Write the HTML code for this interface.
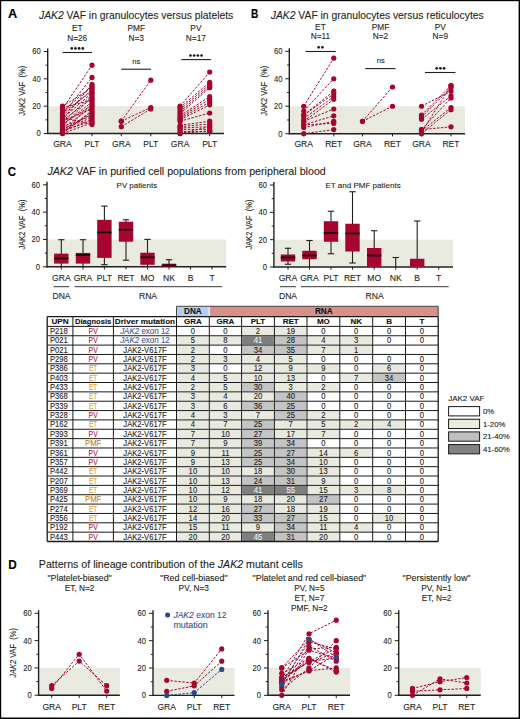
<!DOCTYPE html>
<html><head><meta charset="utf-8"><style>
html,body{margin:0;padding:0;background:#fff;}
svg{display:block;}
text{font-family:"Liberation Sans",sans-serif;stroke-width:0.1px;}
text:not([fill]){stroke:#231f20;}
</style></head><body>
<svg width="520" height="719" viewBox="0 0 520 719">
<rect width="520" height="719" fill="#fff"/>
<g fill="#231f20">
<text x="7.90" y="17.90" font-size="12.8" text-anchor="start" font-weight="bold" fill="#000" stroke="#000">A</text>
<text x="39" y="18.5" font-size="10.6" textLength="194.3" lengthAdjust="spacingAndGlyphs"><tspan font-style="italic">JAK2</tspan> VAF in granulocytes versus platelets</text>
<rect x="48.20" y="106.17" width="175.80" height="27.33" fill="#e9ebe0"/>
<line x1="47.70" y1="48.50" x2="47.70" y2="134.10" stroke="#231f20" stroke-width="1.4"/>
<line x1="47.10" y1="133.50" x2="224.00" y2="133.50" stroke="#231f20" stroke-width="1.4"/>
<line x1="43.70" y1="133.50" x2="47.70" y2="133.50" stroke="#231f20" stroke-width="1.0"/>
<text x="40.80" y="136.40" font-size="8.9" text-anchor="end" textLength="4.25" lengthAdjust="spacingAndGlyphs">0</text>
<line x1="43.70" y1="106.17" x2="47.70" y2="106.17" stroke="#231f20" stroke-width="1.0"/>
<text x="40.80" y="109.07" font-size="8.9" text-anchor="end" textLength="8.5" lengthAdjust="spacingAndGlyphs">20</text>
<line x1="43.70" y1="78.83" x2="47.70" y2="78.83" stroke="#231f20" stroke-width="1.0"/>
<text x="40.80" y="81.73" font-size="8.9" text-anchor="end" textLength="8.5" lengthAdjust="spacingAndGlyphs">40</text>
<line x1="43.70" y1="51.50" x2="47.70" y2="51.50" stroke="#231f20" stroke-width="1.0"/>
<text x="40.80" y="54.40" font-size="8.9" text-anchor="end" textLength="8.5" lengthAdjust="spacingAndGlyphs">60</text>
<line x1="45.50" y1="119.83" x2="47.70" y2="119.83" stroke="#231f20" stroke-width="1.0"/>
<line x1="45.50" y1="92.50" x2="47.70" y2="92.50" stroke="#231f20" stroke-width="1.0"/>
<line x1="45.50" y1="65.17" x2="47.70" y2="65.17" stroke="#231f20" stroke-width="1.0"/>
<text transform="translate(25.30,90.70) rotate(-90)" x="0" y="0" font-size="9.2" text-anchor="middle" textLength="50" lengthAdjust="spacingAndGlyphs">JAK2 VAF&#160; (%)</text>
<line x1="62.50" y1="133.50" x2="62.50" y2="136.20" stroke="#231f20" stroke-width="1.0"/>
<text x="62.50" y="147.20" font-size="8.6" text-anchor="middle">GRA</text>
<line x1="92.00" y1="133.50" x2="92.00" y2="136.20" stroke="#231f20" stroke-width="1.0"/>
<text x="92.00" y="147.20" font-size="8.6" text-anchor="middle">PLT</text>
<line x1="121.30" y1="133.50" x2="121.30" y2="136.20" stroke="#231f20" stroke-width="1.0"/>
<text x="121.30" y="147.20" font-size="8.6" text-anchor="middle">GRA</text>
<line x1="150.80" y1="133.50" x2="150.80" y2="136.20" stroke="#231f20" stroke-width="1.0"/>
<text x="150.80" y="147.20" font-size="8.6" text-anchor="middle">PLT</text>
<line x1="180.10" y1="133.50" x2="180.10" y2="136.20" stroke="#231f20" stroke-width="1.0"/>
<text x="180.10" y="147.20" font-size="8.6" text-anchor="middle">GRA</text>
<line x1="209.70" y1="133.50" x2="209.70" y2="136.20" stroke="#231f20" stroke-width="1.0"/>
<text x="209.70" y="147.20" font-size="8.6" text-anchor="middle">PLT</text>
<text x="77.20" y="30.60" font-size="8.3" text-anchor="middle">ET</text>
<text x="77.20" y="40.60" font-size="8.3" text-anchor="middle">N=26</text>
<text x="136.20" y="30.60" font-size="8.3" text-anchor="middle">PMF</text>
<text x="136.20" y="40.60" font-size="8.3" text-anchor="middle">N=3</text>
<text x="195.90" y="30.60" font-size="8.3" text-anchor="middle">PV</text>
<text x="195.90" y="40.60" font-size="8.3" text-anchor="middle">N=17</text>
<line x1="62.70" y1="52.50" x2="91.90" y2="52.50" stroke="#231f20" stroke-width="1.1"/>
<circle cx="71.75" cy="48.40" r="1.35" fill="#1a1a1a"/>
<circle cx="75.45" cy="48.40" r="1.35" fill="#1a1a1a"/>
<circle cx="79.15" cy="48.40" r="1.35" fill="#1a1a1a"/>
<circle cx="82.85" cy="48.40" r="1.35" fill="#1a1a1a"/>
<line x1="121.20" y1="69.20" x2="151.00" y2="69.20" stroke="#231f20" stroke-width="1.1"/>
<text x="136.20" y="64.20" font-size="7.6" text-anchor="middle">ns</text>
<line x1="181.20" y1="59.60" x2="210.90" y2="59.60" stroke="#231f20" stroke-width="1.1"/>
<circle cx="190.45" cy="55.50" r="1.35" fill="#1a1a1a"/>
<circle cx="194.15" cy="55.50" r="1.35" fill="#1a1a1a"/>
<circle cx="197.85" cy="55.50" r="1.35" fill="#1a1a1a"/>
<circle cx="201.55" cy="55.50" r="1.35" fill="#1a1a1a"/>
<line x1="62.50" y1="108.90" x2="92.00" y2="65.17" stroke="#a5052f" stroke-width="1.0" stroke-dasharray="2.4 1.5"/>
<line x1="62.50" y1="114.37" x2="92.00" y2="77.47" stroke="#a5052f" stroke-width="1.0" stroke-dasharray="2.4 1.5"/>
<line x1="62.50" y1="106.17" x2="92.00" y2="87.81" stroke="#a5052f" stroke-width="1.0" stroke-dasharray="2.4 1.5"/>
<line x1="62.50" y1="107.53" x2="92.00" y2="100.08" stroke="#a5052f" stroke-width="1.0" stroke-dasharray="2.4 1.5"/>
<line x1="62.50" y1="111.63" x2="92.00" y2="86.05" stroke="#a5052f" stroke-width="1.0" stroke-dasharray="2.4 1.5"/>
<line x1="62.50" y1="113.00" x2="92.00" y2="91.31" stroke="#a5052f" stroke-width="1.0" stroke-dasharray="2.4 1.5"/>
<line x1="62.50" y1="115.73" x2="92.00" y2="89.56" stroke="#a5052f" stroke-width="1.0" stroke-dasharray="2.4 1.5"/>
<line x1="62.50" y1="117.10" x2="92.00" y2="124.62" stroke="#a5052f" stroke-width="1.0" stroke-dasharray="2.4 1.5"/>
<line x1="62.50" y1="118.47" x2="92.00" y2="93.06" stroke="#a5052f" stroke-width="1.0" stroke-dasharray="2.4 1.5"/>
<line x1="62.50" y1="119.83" x2="92.00" y2="84.30" stroke="#a5052f" stroke-width="1.0" stroke-dasharray="2.4 1.5"/>
<line x1="62.50" y1="120.52" x2="92.00" y2="98.32" stroke="#a5052f" stroke-width="1.0" stroke-dasharray="2.4 1.5"/>
<line x1="62.50" y1="121.20" x2="92.00" y2="108.84" stroke="#a5052f" stroke-width="1.0" stroke-dasharray="2.4 1.5"/>
<line x1="62.50" y1="122.57" x2="92.00" y2="94.82" stroke="#a5052f" stroke-width="1.0" stroke-dasharray="2.4 1.5"/>
<line x1="62.50" y1="123.93" x2="92.00" y2="105.33" stroke="#a5052f" stroke-width="1.0" stroke-dasharray="2.4 1.5"/>
<line x1="62.50" y1="125.30" x2="92.00" y2="101.83" stroke="#a5052f" stroke-width="1.0" stroke-dasharray="2.4 1.5"/>
<line x1="62.50" y1="125.98" x2="92.00" y2="96.57" stroke="#a5052f" stroke-width="1.0" stroke-dasharray="2.4 1.5"/>
<line x1="62.50" y1="126.67" x2="92.00" y2="115.85" stroke="#a5052f" stroke-width="1.0" stroke-dasharray="2.4 1.5"/>
<line x1="62.50" y1="128.03" x2="92.00" y2="107.09" stroke="#a5052f" stroke-width="1.0" stroke-dasharray="2.4 1.5"/>
<line x1="62.50" y1="128.72" x2="92.00" y2="117.61" stroke="#a5052f" stroke-width="1.0" stroke-dasharray="2.4 1.5"/>
<line x1="62.50" y1="129.40" x2="92.00" y2="114.10" stroke="#a5052f" stroke-width="1.0" stroke-dasharray="2.4 1.5"/>
<line x1="62.50" y1="130.77" x2="92.00" y2="121.11" stroke="#a5052f" stroke-width="1.0" stroke-dasharray="2.4 1.5"/>
<line x1="62.50" y1="131.45" x2="92.00" y2="119.36" stroke="#a5052f" stroke-width="1.0" stroke-dasharray="2.4 1.5"/>
<line x1="62.50" y1="132.13" x2="92.00" y2="112.35" stroke="#a5052f" stroke-width="1.0" stroke-dasharray="2.4 1.5"/>
<line x1="62.50" y1="132.82" x2="92.00" y2="103.58" stroke="#a5052f" stroke-width="1.0" stroke-dasharray="2.4 1.5"/>
<line x1="62.50" y1="133.50" x2="92.00" y2="122.86" stroke="#a5052f" stroke-width="1.0" stroke-dasharray="2.4 1.5"/>
<line x1="62.50" y1="133.50" x2="92.00" y2="110.59" stroke="#a5052f" stroke-width="1.0" stroke-dasharray="2.4 1.5"/>
<circle cx="62.50" cy="108.90" r="2.6" fill="#a5052f"/>
<circle cx="92.00" cy="65.17" r="2.6" fill="#a5052f"/>
<circle cx="62.50" cy="114.37" r="2.6" fill="#a5052f"/>
<circle cx="92.00" cy="77.47" r="2.6" fill="#a5052f"/>
<circle cx="62.50" cy="106.17" r="2.6" fill="#a5052f"/>
<circle cx="92.00" cy="87.81" r="2.6" fill="#a5052f"/>
<circle cx="62.50" cy="107.53" r="2.6" fill="#a5052f"/>
<circle cx="92.00" cy="100.08" r="2.6" fill="#a5052f"/>
<circle cx="62.50" cy="111.63" r="2.6" fill="#a5052f"/>
<circle cx="92.00" cy="86.05" r="2.6" fill="#a5052f"/>
<circle cx="62.50" cy="113.00" r="2.6" fill="#a5052f"/>
<circle cx="92.00" cy="91.31" r="2.6" fill="#a5052f"/>
<circle cx="62.50" cy="115.73" r="2.6" fill="#a5052f"/>
<circle cx="92.00" cy="89.56" r="2.6" fill="#a5052f"/>
<circle cx="62.50" cy="117.10" r="2.6" fill="#a5052f"/>
<circle cx="92.00" cy="124.62" r="2.6" fill="#a5052f"/>
<circle cx="62.50" cy="118.47" r="2.6" fill="#a5052f"/>
<circle cx="92.00" cy="93.06" r="2.6" fill="#a5052f"/>
<circle cx="62.50" cy="119.83" r="2.6" fill="#a5052f"/>
<circle cx="92.00" cy="84.30" r="2.6" fill="#a5052f"/>
<circle cx="62.50" cy="120.52" r="2.6" fill="#a5052f"/>
<circle cx="92.00" cy="98.32" r="2.6" fill="#a5052f"/>
<circle cx="62.50" cy="121.20" r="2.6" fill="#a5052f"/>
<circle cx="92.00" cy="108.84" r="2.6" fill="#a5052f"/>
<circle cx="62.50" cy="122.57" r="2.6" fill="#a5052f"/>
<circle cx="92.00" cy="94.82" r="2.6" fill="#a5052f"/>
<circle cx="62.50" cy="123.93" r="2.6" fill="#a5052f"/>
<circle cx="92.00" cy="105.33" r="2.6" fill="#a5052f"/>
<circle cx="62.50" cy="125.30" r="2.6" fill="#a5052f"/>
<circle cx="92.00" cy="101.83" r="2.6" fill="#a5052f"/>
<circle cx="62.50" cy="125.98" r="2.6" fill="#a5052f"/>
<circle cx="92.00" cy="96.57" r="2.6" fill="#a5052f"/>
<circle cx="62.50" cy="126.67" r="2.6" fill="#a5052f"/>
<circle cx="92.00" cy="115.85" r="2.6" fill="#a5052f"/>
<circle cx="62.50" cy="128.03" r="2.6" fill="#a5052f"/>
<circle cx="92.00" cy="107.09" r="2.6" fill="#a5052f"/>
<circle cx="62.50" cy="128.72" r="2.6" fill="#a5052f"/>
<circle cx="92.00" cy="117.61" r="2.6" fill="#a5052f"/>
<circle cx="62.50" cy="129.40" r="2.6" fill="#a5052f"/>
<circle cx="92.00" cy="114.10" r="2.6" fill="#a5052f"/>
<circle cx="62.50" cy="130.77" r="2.6" fill="#a5052f"/>
<circle cx="92.00" cy="121.11" r="2.6" fill="#a5052f"/>
<circle cx="62.50" cy="131.45" r="2.6" fill="#a5052f"/>
<circle cx="92.00" cy="119.36" r="2.6" fill="#a5052f"/>
<circle cx="62.50" cy="132.13" r="2.6" fill="#a5052f"/>
<circle cx="92.00" cy="112.35" r="2.6" fill="#a5052f"/>
<circle cx="62.50" cy="132.82" r="2.6" fill="#a5052f"/>
<circle cx="92.00" cy="103.58" r="2.6" fill="#a5052f"/>
<circle cx="62.50" cy="133.50" r="2.6" fill="#a5052f"/>
<circle cx="92.00" cy="122.86" r="2.6" fill="#a5052f"/>
<circle cx="62.50" cy="133.50" r="2.6" fill="#a5052f"/>
<circle cx="92.00" cy="110.59" r="2.6" fill="#a5052f"/>
<line x1="121.30" y1="121.20" x2="150.80" y2="80.20" stroke="#a5052f" stroke-width="1.0" stroke-dasharray="2.4 1.5"/>
<line x1="121.30" y1="121.20" x2="150.80" y2="107.53" stroke="#a5052f" stroke-width="1.0" stroke-dasharray="2.4 1.5"/>
<line x1="121.30" y1="126.67" x2="150.80" y2="108.90" stroke="#a5052f" stroke-width="1.0" stroke-dasharray="2.4 1.5"/>
<circle cx="121.30" cy="121.20" r="2.6" fill="#a5052f"/>
<circle cx="150.80" cy="80.20" r="2.6" fill="#a5052f"/>
<circle cx="121.30" cy="121.20" r="2.6" fill="#a5052f"/>
<circle cx="150.80" cy="107.53" r="2.6" fill="#a5052f"/>
<circle cx="121.30" cy="126.67" r="2.6" fill="#a5052f"/>
<circle cx="150.80" cy="108.90" r="2.6" fill="#a5052f"/>
<line x1="180.10" y1="106.17" x2="209.70" y2="72.00" stroke="#a5052f" stroke-width="1.0" stroke-dasharray="2.4 1.5"/>
<line x1="180.10" y1="107.53" x2="209.70" y2="82.25" stroke="#a5052f" stroke-width="1.0" stroke-dasharray="2.4 1.5"/>
<line x1="180.10" y1="109.58" x2="209.70" y2="84.30" stroke="#a5052f" stroke-width="1.0" stroke-dasharray="2.4 1.5"/>
<line x1="180.10" y1="111.63" x2="209.70" y2="86.35" stroke="#a5052f" stroke-width="1.0" stroke-dasharray="2.4 1.5"/>
<line x1="180.10" y1="113.68" x2="209.70" y2="87.72" stroke="#a5052f" stroke-width="1.0" stroke-dasharray="2.4 1.5"/>
<line x1="180.10" y1="115.73" x2="209.70" y2="96.60" stroke="#a5052f" stroke-width="1.0" stroke-dasharray="2.4 1.5"/>
<line x1="180.10" y1="117.10" x2="209.70" y2="99.33" stroke="#a5052f" stroke-width="1.0" stroke-dasharray="2.4 1.5"/>
<line x1="180.10" y1="118.47" x2="209.70" y2="102.07" stroke="#a5052f" stroke-width="1.0" stroke-dasharray="2.4 1.5"/>
<line x1="180.10" y1="119.83" x2="209.70" y2="104.80" stroke="#a5052f" stroke-width="1.0" stroke-dasharray="2.4 1.5"/>
<line x1="180.10" y1="121.20" x2="209.70" y2="113.00" stroke="#a5052f" stroke-width="1.0" stroke-dasharray="2.4 1.5"/>
<line x1="180.10" y1="125.30" x2="209.70" y2="121.20" stroke="#a5052f" stroke-width="1.0" stroke-dasharray="2.4 1.5"/>
<line x1="180.10" y1="126.67" x2="209.70" y2="123.93" stroke="#a5052f" stroke-width="1.0" stroke-dasharray="2.4 1.5"/>
<line x1="180.10" y1="128.03" x2="209.70" y2="126.67" stroke="#a5052f" stroke-width="1.0" stroke-dasharray="2.4 1.5"/>
<line x1="180.10" y1="129.40" x2="209.70" y2="129.40" stroke="#a5052f" stroke-width="1.0" stroke-dasharray="2.4 1.5"/>
<line x1="180.10" y1="131.45" x2="209.70" y2="131.45" stroke="#a5052f" stroke-width="1.0" stroke-dasharray="2.4 1.5"/>
<line x1="180.10" y1="133.50" x2="209.70" y2="126.67" stroke="#a5052f" stroke-width="1.0" stroke-dasharray="2.4 1.5"/>
<line x1="180.10" y1="133.50" x2="209.70" y2="130.77" stroke="#a5052f" stroke-width="1.0" stroke-dasharray="2.4 1.5"/>
<circle cx="180.10" cy="106.17" r="2.6" fill="#a5052f"/>
<circle cx="209.70" cy="72.00" r="2.6" fill="#a5052f"/>
<circle cx="180.10" cy="107.53" r="2.6" fill="#a5052f"/>
<circle cx="209.70" cy="82.25" r="2.6" fill="#a5052f"/>
<circle cx="180.10" cy="109.58" r="2.6" fill="#a5052f"/>
<circle cx="209.70" cy="84.30" r="2.6" fill="#a5052f"/>
<circle cx="180.10" cy="111.63" r="2.6" fill="#a5052f"/>
<circle cx="209.70" cy="86.35" r="2.6" fill="#a5052f"/>
<circle cx="180.10" cy="113.68" r="2.6" fill="#a5052f"/>
<circle cx="209.70" cy="87.72" r="2.6" fill="#a5052f"/>
<circle cx="180.10" cy="115.73" r="2.6" fill="#a5052f"/>
<circle cx="209.70" cy="96.60" r="2.6" fill="#a5052f"/>
<circle cx="180.10" cy="117.10" r="2.6" fill="#a5052f"/>
<circle cx="209.70" cy="99.33" r="2.6" fill="#a5052f"/>
<circle cx="180.10" cy="118.47" r="2.6" fill="#a5052f"/>
<circle cx="209.70" cy="102.07" r="2.6" fill="#a5052f"/>
<circle cx="180.10" cy="119.83" r="2.6" fill="#a5052f"/>
<circle cx="209.70" cy="104.80" r="2.6" fill="#a5052f"/>
<circle cx="180.10" cy="121.20" r="2.6" fill="#a5052f"/>
<circle cx="209.70" cy="113.00" r="2.6" fill="#a5052f"/>
<circle cx="180.10" cy="125.30" r="2.6" fill="#a5052f"/>
<circle cx="209.70" cy="121.20" r="2.6" fill="#a5052f"/>
<circle cx="180.10" cy="126.67" r="2.6" fill="#a5052f"/>
<circle cx="209.70" cy="123.93" r="2.6" fill="#a5052f"/>
<circle cx="180.10" cy="128.03" r="2.6" fill="#a5052f"/>
<circle cx="209.70" cy="126.67" r="2.6" fill="#a5052f"/>
<circle cx="180.10" cy="129.40" r="2.6" fill="#a5052f"/>
<circle cx="209.70" cy="129.40" r="2.6" fill="#a5052f"/>
<circle cx="180.10" cy="131.45" r="2.6" fill="#a5052f"/>
<circle cx="209.70" cy="131.45" r="2.6" fill="#a5052f"/>
<circle cx="180.10" cy="133.50" r="2.6" fill="#a5052f"/>
<circle cx="209.70" cy="126.67" r="2.6" fill="#a5052f"/>
<circle cx="180.10" cy="133.50" r="2.6" fill="#a5052f"/>
<circle cx="209.70" cy="130.77" r="2.6" fill="#a5052f"/>
<text x="251.00" y="17.70" font-size="12.6" text-anchor="start" font-weight="bold" fill="#000" stroke="#000" textLength="7.3" lengthAdjust="spacingAndGlyphs">B</text>
<text x="270.8" y="18.5" font-size="10.6" textLength="212.9" lengthAdjust="spacingAndGlyphs"><tspan font-style="italic">JAK2</tspan> VAF in granulocytes versus reticulocytes</text>
<rect x="289.80" y="106.23" width="175.20" height="27.47" fill="#e9ebe0"/>
<line x1="289.30" y1="48.30" x2="289.30" y2="134.30" stroke="#231f20" stroke-width="1.4"/>
<line x1="288.70" y1="133.70" x2="465.00" y2="133.70" stroke="#231f20" stroke-width="1.4"/>
<line x1="285.30" y1="133.70" x2="289.30" y2="133.70" stroke="#231f20" stroke-width="1.0"/>
<text x="282.40" y="136.60" font-size="8.9" text-anchor="end" textLength="4.25" lengthAdjust="spacingAndGlyphs">0</text>
<line x1="285.30" y1="106.23" x2="289.30" y2="106.23" stroke="#231f20" stroke-width="1.0"/>
<text x="282.40" y="109.13" font-size="8.9" text-anchor="end" textLength="8.5" lengthAdjust="spacingAndGlyphs">20</text>
<line x1="285.30" y1="78.77" x2="289.30" y2="78.77" stroke="#231f20" stroke-width="1.0"/>
<text x="282.40" y="81.67" font-size="8.9" text-anchor="end" textLength="8.5" lengthAdjust="spacingAndGlyphs">40</text>
<line x1="285.30" y1="51.30" x2="289.30" y2="51.30" stroke="#231f20" stroke-width="1.0"/>
<text x="282.40" y="54.20" font-size="8.9" text-anchor="end" textLength="8.5" lengthAdjust="spacingAndGlyphs">60</text>
<line x1="287.10" y1="119.97" x2="289.30" y2="119.97" stroke="#231f20" stroke-width="1.0"/>
<line x1="287.10" y1="92.50" x2="289.30" y2="92.50" stroke="#231f20" stroke-width="1.0"/>
<line x1="287.10" y1="65.03" x2="289.30" y2="65.03" stroke="#231f20" stroke-width="1.0"/>
<text transform="translate(266.85,90.70) rotate(-90)" x="0" y="0" font-size="9.2" text-anchor="middle" textLength="50" lengthAdjust="spacingAndGlyphs">JAK2 VAF&#160; (%)</text>
<line x1="303.75" y1="133.70" x2="303.75" y2="136.40" stroke="#231f20" stroke-width="1.0"/>
<text x="303.75" y="147.20" font-size="8.6" text-anchor="middle">GRA</text>
<line x1="333.75" y1="133.70" x2="333.75" y2="136.40" stroke="#231f20" stroke-width="1.0"/>
<text x="333.75" y="147.20" font-size="8.6" text-anchor="middle">RET</text>
<line x1="362.50" y1="133.70" x2="362.50" y2="136.40" stroke="#231f20" stroke-width="1.0"/>
<text x="362.50" y="147.20" font-size="8.6" text-anchor="middle">GRA</text>
<line x1="392.50" y1="133.70" x2="392.50" y2="136.40" stroke="#231f20" stroke-width="1.0"/>
<text x="392.50" y="147.20" font-size="8.6" text-anchor="middle">RET</text>
<line x1="421.50" y1="133.70" x2="421.50" y2="136.40" stroke="#231f20" stroke-width="1.0"/>
<text x="421.50" y="147.20" font-size="8.6" text-anchor="middle">GRA</text>
<line x1="451.00" y1="133.70" x2="451.00" y2="136.40" stroke="#231f20" stroke-width="1.0"/>
<text x="451.00" y="147.20" font-size="8.6" text-anchor="middle">RET</text>
<text x="320.40" y="29.70" font-size="8.3" text-anchor="middle">ET</text>
<text x="320.40" y="39.20" font-size="8.3" text-anchor="middle">N=11</text>
<text x="380.50" y="29.70" font-size="8.3" text-anchor="middle">PMF</text>
<text x="380.50" y="39.20" font-size="8.3" text-anchor="middle">N=2</text>
<text x="440.30" y="29.70" font-size="8.3" text-anchor="middle">PV</text>
<text x="440.30" y="39.20" font-size="8.3" text-anchor="middle">N=9</text>
<line x1="305.50" y1="51.50" x2="335.80" y2="51.50" stroke="#231f20" stroke-width="1.1"/>
<circle cx="318.65" cy="47.30" r="1.35" fill="#1a1a1a"/>
<circle cx="322.35" cy="47.30" r="1.35" fill="#1a1a1a"/>
<line x1="365.20" y1="68.60" x2="395.40" y2="68.60" stroke="#231f20" stroke-width="1.1"/>
<text x="380.70" y="63.30" font-size="7.6" text-anchor="middle">ns</text>
<line x1="425.00" y1="72.50" x2="455.40" y2="72.50" stroke="#231f20" stroke-width="1.1"/>
<circle cx="436.70" cy="68.30" r="1.35" fill="#1a1a1a"/>
<circle cx="440.40" cy="68.30" r="1.35" fill="#1a1a1a"/>
<circle cx="444.10" cy="68.30" r="1.35" fill="#1a1a1a"/>
<line x1="303.75" y1="106.23" x2="333.75" y2="58.17" stroke="#a5052f" stroke-width="1.0" stroke-dasharray="2.4 1.5"/>
<line x1="303.75" y1="111.04" x2="333.75" y2="78.77" stroke="#a5052f" stroke-width="1.0" stroke-dasharray="2.4 1.5"/>
<line x1="303.75" y1="115.16" x2="333.75" y2="91.13" stroke="#a5052f" stroke-width="1.0" stroke-dasharray="2.4 1.5"/>
<line x1="303.75" y1="115.16" x2="333.75" y2="93.87" stroke="#a5052f" stroke-width="1.0" stroke-dasharray="2.4 1.5"/>
<line x1="303.75" y1="118.59" x2="333.75" y2="96.62" stroke="#a5052f" stroke-width="1.0" stroke-dasharray="2.4 1.5"/>
<line x1="303.75" y1="121.34" x2="333.75" y2="99.37" stroke="#a5052f" stroke-width="1.0" stroke-dasharray="2.4 1.5"/>
<line x1="303.75" y1="121.34" x2="333.75" y2="108.98" stroke="#a5052f" stroke-width="1.0" stroke-dasharray="2.4 1.5"/>
<line x1="303.75" y1="124.77" x2="333.75" y2="115.85" stroke="#a5052f" stroke-width="1.0" stroke-dasharray="2.4 1.5"/>
<line x1="303.75" y1="127.52" x2="333.75" y2="121.34" stroke="#a5052f" stroke-width="1.0" stroke-dasharray="2.4 1.5"/>
<line x1="303.75" y1="124.77" x2="333.75" y2="123.40" stroke="#a5052f" stroke-width="1.0" stroke-dasharray="2.4 1.5"/>
<line x1="303.75" y1="133.70" x2="333.75" y2="129.58" stroke="#a5052f" stroke-width="1.0" stroke-dasharray="2.4 1.5"/>
<circle cx="303.75" cy="106.23" r="2.6" fill="#a5052f"/>
<circle cx="333.75" cy="58.17" r="2.6" fill="#a5052f"/>
<circle cx="303.75" cy="111.04" r="2.6" fill="#a5052f"/>
<circle cx="333.75" cy="78.77" r="2.6" fill="#a5052f"/>
<circle cx="303.75" cy="115.16" r="2.6" fill="#a5052f"/>
<circle cx="333.75" cy="91.13" r="2.6" fill="#a5052f"/>
<circle cx="303.75" cy="115.16" r="2.6" fill="#a5052f"/>
<circle cx="333.75" cy="93.87" r="2.6" fill="#a5052f"/>
<circle cx="303.75" cy="118.59" r="2.6" fill="#a5052f"/>
<circle cx="333.75" cy="96.62" r="2.6" fill="#a5052f"/>
<circle cx="303.75" cy="121.34" r="2.6" fill="#a5052f"/>
<circle cx="333.75" cy="99.37" r="2.6" fill="#a5052f"/>
<circle cx="303.75" cy="121.34" r="2.6" fill="#a5052f"/>
<circle cx="333.75" cy="108.98" r="2.6" fill="#a5052f"/>
<circle cx="303.75" cy="124.77" r="2.6" fill="#a5052f"/>
<circle cx="333.75" cy="115.85" r="2.6" fill="#a5052f"/>
<circle cx="303.75" cy="127.52" r="2.6" fill="#a5052f"/>
<circle cx="333.75" cy="121.34" r="2.6" fill="#a5052f"/>
<circle cx="303.75" cy="124.77" r="2.6" fill="#a5052f"/>
<circle cx="333.75" cy="123.40" r="2.6" fill="#a5052f"/>
<circle cx="303.75" cy="133.70" r="2.6" fill="#a5052f"/>
<circle cx="333.75" cy="129.58" r="2.6" fill="#a5052f"/>
<line x1="362.50" y1="121.34" x2="392.50" y2="87.01" stroke="#a5052f" stroke-width="1.0" stroke-dasharray="2.4 1.5"/>
<line x1="362.50" y1="121.34" x2="392.50" y2="106.23" stroke="#a5052f" stroke-width="1.0" stroke-dasharray="2.4 1.5"/>
<circle cx="362.50" cy="121.34" r="2.6" fill="#a5052f"/>
<circle cx="392.50" cy="87.01" r="2.6" fill="#a5052f"/>
<circle cx="362.50" cy="121.34" r="2.6" fill="#a5052f"/>
<circle cx="392.50" cy="106.23" r="2.6" fill="#a5052f"/>
<line x1="421.50" y1="106.23" x2="451.00" y2="91.13" stroke="#a5052f" stroke-width="1.0" stroke-dasharray="2.4 1.5"/>
<line x1="421.50" y1="115.16" x2="451.00" y2="85.63" stroke="#a5052f" stroke-width="1.0" stroke-dasharray="2.4 1.5"/>
<line x1="421.50" y1="117.22" x2="451.00" y2="87.69" stroke="#a5052f" stroke-width="1.0" stroke-dasharray="2.4 1.5"/>
<line x1="421.50" y1="119.28" x2="451.00" y2="95.93" stroke="#a5052f" stroke-width="1.0" stroke-dasharray="2.4 1.5"/>
<line x1="421.50" y1="129.58" x2="451.00" y2="97.99" stroke="#a5052f" stroke-width="1.0" stroke-dasharray="2.4 1.5"/>
<line x1="421.50" y1="130.95" x2="451.00" y2="107.61" stroke="#a5052f" stroke-width="1.0" stroke-dasharray="2.4 1.5"/>
<line x1="421.50" y1="133.70" x2="451.00" y2="109.67" stroke="#a5052f" stroke-width="1.0" stroke-dasharray="2.4 1.5"/>
<line x1="421.50" y1="132.33" x2="451.00" y2="85.63" stroke="#a5052f" stroke-width="1.0" stroke-dasharray="2.4 1.5"/>
<line x1="421.50" y1="129.58" x2="451.00" y2="126.83" stroke="#a5052f" stroke-width="1.0" stroke-dasharray="2.4 1.5"/>
<circle cx="421.50" cy="106.23" r="2.6" fill="#a5052f"/>
<circle cx="451.00" cy="91.13" r="2.6" fill="#a5052f"/>
<circle cx="421.50" cy="115.16" r="2.6" fill="#a5052f"/>
<circle cx="451.00" cy="85.63" r="2.6" fill="#a5052f"/>
<circle cx="421.50" cy="117.22" r="2.6" fill="#a5052f"/>
<circle cx="451.00" cy="87.69" r="2.6" fill="#a5052f"/>
<circle cx="421.50" cy="119.28" r="2.6" fill="#a5052f"/>
<circle cx="451.00" cy="95.93" r="2.6" fill="#a5052f"/>
<circle cx="421.50" cy="129.58" r="2.6" fill="#a5052f"/>
<circle cx="451.00" cy="97.99" r="2.6" fill="#a5052f"/>
<circle cx="421.50" cy="130.95" r="2.6" fill="#a5052f"/>
<circle cx="451.00" cy="107.61" r="2.6" fill="#a5052f"/>
<circle cx="421.50" cy="133.70" r="2.6" fill="#a5052f"/>
<circle cx="451.00" cy="109.67" r="2.6" fill="#a5052f"/>
<circle cx="421.50" cy="132.33" r="2.6" fill="#a5052f"/>
<circle cx="451.00" cy="85.63" r="2.6" fill="#a5052f"/>
<circle cx="421.50" cy="129.58" r="2.6" fill="#a5052f"/>
<circle cx="451.00" cy="126.83" r="2.6" fill="#a5052f"/>
<text x="7.70" y="176.30" font-size="12.6" text-anchor="start" font-weight="bold" fill="#000" stroke="#000" textLength="8.3" lengthAdjust="spacingAndGlyphs">C</text>
<text x="47.4" y="174.5" font-size="10.6" textLength="278.4" lengthAdjust="spacingAndGlyphs"><tspan font-style="italic">JAK2</tspan> VAF in purified cell populations from peripheral blood</text>
<rect x="47.50" y="239.47" width="178.70" height="27.33" fill="#e9ebe0"/>
<line x1="47.00" y1="181.80" x2="47.00" y2="267.40" stroke="#231f20" stroke-width="1.4"/>
<line x1="46.40" y1="266.80" x2="226.20" y2="266.80" stroke="#231f20" stroke-width="1.4"/>
<line x1="43.00" y1="266.80" x2="47.00" y2="266.80" stroke="#231f20" stroke-width="1.0"/>
<text x="40.10" y="269.70" font-size="8.9" text-anchor="end" textLength="4.25" lengthAdjust="spacingAndGlyphs">0</text>
<line x1="43.00" y1="239.47" x2="47.00" y2="239.47" stroke="#231f20" stroke-width="1.0"/>
<text x="40.10" y="242.37" font-size="8.9" text-anchor="end" textLength="8.5" lengthAdjust="spacingAndGlyphs">20</text>
<line x1="43.00" y1="212.13" x2="47.00" y2="212.13" stroke="#231f20" stroke-width="1.0"/>
<text x="40.10" y="215.03" font-size="8.9" text-anchor="end" textLength="8.5" lengthAdjust="spacingAndGlyphs">40</text>
<line x1="43.00" y1="184.80" x2="47.00" y2="184.80" stroke="#231f20" stroke-width="1.0"/>
<text x="40.10" y="187.70" font-size="8.9" text-anchor="end" textLength="8.5" lengthAdjust="spacingAndGlyphs">60</text>
<line x1="44.80" y1="253.13" x2="47.00" y2="253.13" stroke="#231f20" stroke-width="1.0"/>
<line x1="44.80" y1="225.80" x2="47.00" y2="225.80" stroke="#231f20" stroke-width="1.0"/>
<line x1="44.80" y1="198.47" x2="47.00" y2="198.47" stroke="#231f20" stroke-width="1.0"/>
<text transform="translate(24.85,224.60) rotate(-90)" x="0" y="0" font-size="9.2" text-anchor="middle" textLength="50" lengthAdjust="spacingAndGlyphs">JAK2 VAF&#160; (%)</text>
<line x1="61.30" y1="266.80" x2="61.30" y2="269.50" stroke="#231f20" stroke-width="1.0"/>
<text x="61.30" y="281.40" font-size="8.6" text-anchor="middle">GRA</text>
<line x1="83.00" y1="266.80" x2="83.00" y2="269.50" stroke="#231f20" stroke-width="1.0"/>
<text x="83.00" y="281.40" font-size="8.6" text-anchor="middle">GRA</text>
<line x1="104.40" y1="266.80" x2="104.40" y2="269.50" stroke="#231f20" stroke-width="1.0"/>
<text x="104.40" y="281.40" font-size="8.6" text-anchor="middle">PLT</text>
<line x1="126.00" y1="266.80" x2="126.00" y2="269.50" stroke="#231f20" stroke-width="1.0"/>
<text x="126.00" y="281.40" font-size="8.6" text-anchor="middle">RET</text>
<line x1="147.50" y1="266.80" x2="147.50" y2="269.50" stroke="#231f20" stroke-width="1.0"/>
<text x="147.50" y="281.40" font-size="8.6" text-anchor="middle">MO</text>
<line x1="169.00" y1="266.80" x2="169.00" y2="269.50" stroke="#231f20" stroke-width="1.0"/>
<text x="169.00" y="281.40" font-size="8.6" text-anchor="middle">NK</text>
<line x1="190.50" y1="266.80" x2="190.50" y2="269.50" stroke="#231f20" stroke-width="1.0"/>
<text x="190.50" y="281.40" font-size="8.6" text-anchor="middle">B</text>
<line x1="212.00" y1="266.80" x2="212.00" y2="269.50" stroke="#231f20" stroke-width="1.0"/>
<text x="212.00" y="281.40" font-size="8.6" text-anchor="middle">T</text>
<line x1="53.70" y1="286.70" x2="69.30" y2="286.70" stroke="#231f20" stroke-width="0.9"/>
<line x1="74.50" y1="286.70" x2="222.00" y2="286.70" stroke="#231f20" stroke-width="0.9"/>
<text x="61.50" y="298.80" font-size="8.6" text-anchor="middle">DNA</text>
<text x="148.00" y="298.80" font-size="8.6" text-anchor="middle">RNA</text>
<text x="116.60" y="188.40" font-size="7.9" text-anchor="start" textLength="40.5" lengthAdjust="spacingAndGlyphs">PV patients</text>
<line x1="61.30" y1="239.70" x2="61.30" y2="266.60" stroke="#231f20" stroke-width="1.1"/>
<line x1="58.10" y1="239.70" x2="64.50" y2="239.70" stroke="#231f20" stroke-width="1.1"/>
<rect x="54.10" y="253.60" width="14.40" height="10.00" fill="#a5052f"/>
<line x1="54.10" y1="258.50" x2="68.50" y2="258.50" stroke="#1a0a0d" stroke-width="1.8"/>
<line x1="83.00" y1="239.70" x2="83.00" y2="266.60" stroke="#231f20" stroke-width="1.1"/>
<line x1="79.80" y1="239.70" x2="86.20" y2="239.70" stroke="#231f20" stroke-width="1.1"/>
<rect x="75.80" y="252.90" width="14.40" height="10.70" fill="#a5052f"/>
<line x1="75.80" y1="254.90" x2="90.20" y2="254.90" stroke="#1a0a0d" stroke-width="1.8"/>
<line x1="104.40" y1="206.10" x2="104.40" y2="264.70" stroke="#231f20" stroke-width="1.1"/>
<line x1="101.20" y1="206.10" x2="107.60" y2="206.10" stroke="#231f20" stroke-width="1.1"/>
<line x1="101.20" y1="264.70" x2="107.60" y2="264.70" stroke="#231f20" stroke-width="1.1"/>
<rect x="97.20" y="219.80" width="14.40" height="38.10" fill="#a5052f"/>
<line x1="97.20" y1="232.40" x2="111.60" y2="232.40" stroke="#1a0a0d" stroke-width="1.8"/>
<line x1="126.00" y1="219.80" x2="126.00" y2="260.20" stroke="#231f20" stroke-width="1.1"/>
<line x1="122.80" y1="219.80" x2="129.20" y2="219.80" stroke="#231f20" stroke-width="1.1"/>
<line x1="122.80" y1="260.20" x2="129.20" y2="260.20" stroke="#231f20" stroke-width="1.1"/>
<rect x="118.80" y="221.70" width="14.40" height="20.00" fill="#a5052f"/>
<line x1="118.80" y1="229.80" x2="133.20" y2="229.80" stroke="#1a0a0d" stroke-width="1.8"/>
<line x1="147.50" y1="239.40" x2="147.50" y2="266.60" stroke="#231f20" stroke-width="1.1"/>
<line x1="144.30" y1="239.40" x2="150.70" y2="239.40" stroke="#231f20" stroke-width="1.1"/>
<rect x="140.30" y="252.70" width="14.40" height="12.10" fill="#a5052f"/>
<line x1="140.30" y1="257.30" x2="154.70" y2="257.30" stroke="#1a0a0d" stroke-width="1.8"/>
<line x1="169.00" y1="259.70" x2="169.00" y2="266.60" stroke="#231f20" stroke-width="1.1"/>
<line x1="165.80" y1="259.70" x2="172.20" y2="259.70" stroke="#231f20" stroke-width="1.1"/>
<rect x="161.80" y="263.70" width="14.40" height="2.90" fill="#a5052f"/>
<line x1="161.80" y1="265.30" x2="176.20" y2="265.30" stroke="#1a0a0d" stroke-width="1.8"/>
<rect x="274.40" y="239.67" width="178.60" height="27.33" fill="#e9ebe0"/>
<line x1="273.90" y1="182.00" x2="273.90" y2="267.60" stroke="#231f20" stroke-width="1.4"/>
<line x1="273.30" y1="267.00" x2="453.00" y2="267.00" stroke="#231f20" stroke-width="1.4"/>
<line x1="269.90" y1="267.00" x2="273.90" y2="267.00" stroke="#231f20" stroke-width="1.0"/>
<text x="267.00" y="269.90" font-size="8.9" text-anchor="end" textLength="4.25" lengthAdjust="spacingAndGlyphs">0</text>
<line x1="269.90" y1="239.67" x2="273.90" y2="239.67" stroke="#231f20" stroke-width="1.0"/>
<text x="267.00" y="242.57" font-size="8.9" text-anchor="end" textLength="8.5" lengthAdjust="spacingAndGlyphs">20</text>
<line x1="269.90" y1="212.33" x2="273.90" y2="212.33" stroke="#231f20" stroke-width="1.0"/>
<text x="267.00" y="215.23" font-size="8.9" text-anchor="end" textLength="8.5" lengthAdjust="spacingAndGlyphs">40</text>
<line x1="269.90" y1="185.00" x2="273.90" y2="185.00" stroke="#231f20" stroke-width="1.0"/>
<text x="267.00" y="187.90" font-size="8.9" text-anchor="end" textLength="8.5" lengthAdjust="spacingAndGlyphs">60</text>
<line x1="271.70" y1="253.33" x2="273.90" y2="253.33" stroke="#231f20" stroke-width="1.0"/>
<line x1="271.70" y1="226.00" x2="273.90" y2="226.00" stroke="#231f20" stroke-width="1.0"/>
<line x1="271.70" y1="198.67" x2="273.90" y2="198.67" stroke="#231f20" stroke-width="1.0"/>
<text transform="translate(251.70,224.60) rotate(-90)" x="0" y="0" font-size="9.2" text-anchor="middle" textLength="50" lengthAdjust="spacingAndGlyphs">JAK2 VAF&#160; (%)</text>
<line x1="288.00" y1="267.00" x2="288.00" y2="269.70" stroke="#231f20" stroke-width="1.0"/>
<text x="288.00" y="281.40" font-size="8.6" text-anchor="middle">GRA</text>
<line x1="309.50" y1="267.00" x2="309.50" y2="269.70" stroke="#231f20" stroke-width="1.0"/>
<text x="309.50" y="281.40" font-size="8.6" text-anchor="middle">GRA</text>
<line x1="331.00" y1="267.00" x2="331.00" y2="269.70" stroke="#231f20" stroke-width="1.0"/>
<text x="331.00" y="281.40" font-size="8.6" text-anchor="middle">PLT</text>
<line x1="352.50" y1="267.00" x2="352.50" y2="269.70" stroke="#231f20" stroke-width="1.0"/>
<text x="352.50" y="281.40" font-size="8.6" text-anchor="middle">RET</text>
<line x1="374.20" y1="267.00" x2="374.20" y2="269.70" stroke="#231f20" stroke-width="1.0"/>
<text x="374.20" y="281.40" font-size="8.6" text-anchor="middle">MO</text>
<line x1="395.70" y1="267.00" x2="395.70" y2="269.70" stroke="#231f20" stroke-width="1.0"/>
<text x="395.70" y="281.40" font-size="8.6" text-anchor="middle">NK</text>
<line x1="417.20" y1="267.00" x2="417.20" y2="269.70" stroke="#231f20" stroke-width="1.0"/>
<text x="417.20" y="281.40" font-size="8.6" text-anchor="middle">B</text>
<line x1="438.70" y1="267.00" x2="438.70" y2="269.70" stroke="#231f20" stroke-width="1.0"/>
<text x="438.70" y="281.40" font-size="8.6" text-anchor="middle">T</text>
<line x1="280.00" y1="286.70" x2="296.00" y2="286.70" stroke="#231f20" stroke-width="0.9"/>
<line x1="301.00" y1="286.70" x2="448.70" y2="286.70" stroke="#231f20" stroke-width="0.9"/>
<text x="288.00" y="298.80" font-size="8.6" text-anchor="middle">DNA</text>
<text x="374.70" y="298.80" font-size="8.6" text-anchor="middle">RNA</text>
<text x="325.50" y="188.40" font-size="7.9" text-anchor="start" textLength="75.2" lengthAdjust="spacingAndGlyphs">ET and PMF patients</text>
<line x1="288.00" y1="248.25" x2="288.00" y2="264.25" stroke="#231f20" stroke-width="1.1"/>
<line x1="284.80" y1="248.25" x2="291.20" y2="248.25" stroke="#231f20" stroke-width="1.1"/>
<line x1="284.80" y1="264.25" x2="291.20" y2="264.25" stroke="#231f20" stroke-width="1.1"/>
<rect x="280.80" y="254.50" width="14.40" height="7.00" fill="#a5052f"/>
<line x1="280.80" y1="257.50" x2="295.20" y2="257.50" stroke="#1a0a0d" stroke-width="1.8"/>
<line x1="309.50" y1="240.50" x2="309.50" y2="266.80" stroke="#231f20" stroke-width="1.1"/>
<line x1="306.30" y1="240.50" x2="312.70" y2="240.50" stroke="#231f20" stroke-width="1.1"/>
<rect x="302.30" y="250.75" width="14.40" height="8.50" fill="#a5052f"/>
<line x1="302.30" y1="255.50" x2="316.70" y2="255.50" stroke="#1a0a0d" stroke-width="1.8"/>
<line x1="331.00" y1="211.25" x2="331.00" y2="253.75" stroke="#231f20" stroke-width="1.1"/>
<line x1="327.80" y1="211.25" x2="334.20" y2="211.25" stroke="#231f20" stroke-width="1.1"/>
<line x1="327.80" y1="253.75" x2="334.20" y2="253.75" stroke="#231f20" stroke-width="1.1"/>
<rect x="323.80" y="221.25" width="14.40" height="20.50" fill="#a5052f"/>
<line x1="323.80" y1="233.00" x2="338.20" y2="233.00" stroke="#1a0a0d" stroke-width="1.8"/>
<line x1="352.50" y1="191.75" x2="352.50" y2="263.00" stroke="#231f20" stroke-width="1.1"/>
<line x1="349.30" y1="191.75" x2="355.70" y2="191.75" stroke="#231f20" stroke-width="1.1"/>
<line x1="349.30" y1="263.00" x2="355.70" y2="263.00" stroke="#231f20" stroke-width="1.1"/>
<rect x="345.30" y="223.75" width="14.40" height="27.75" fill="#a5052f"/>
<line x1="345.30" y1="233.50" x2="359.70" y2="233.50" stroke="#1a0a0d" stroke-width="1.8"/>
<line x1="374.20" y1="230.75" x2="374.20" y2="266.80" stroke="#231f20" stroke-width="1.1"/>
<line x1="371.00" y1="230.75" x2="377.40" y2="230.75" stroke="#231f20" stroke-width="1.1"/>
<rect x="367.00" y="248.00" width="14.40" height="18.80" fill="#a5052f"/>
<line x1="367.00" y1="255.50" x2="381.40" y2="255.50" stroke="#1a0a0d" stroke-width="1.8"/>
<line x1="395.70" y1="257.50" x2="395.70" y2="266.80" stroke="#231f20" stroke-width="1.1"/>
<line x1="392.50" y1="257.50" x2="398.90" y2="257.50" stroke="#231f20" stroke-width="1.1"/>
<line x1="417.20" y1="221.00" x2="417.20" y2="266.80" stroke="#231f20" stroke-width="1.1"/>
<line x1="414.00" y1="221.00" x2="420.40" y2="221.00" stroke="#231f20" stroke-width="1.1"/>
<rect x="410.00" y="258.75" width="14.40" height="8.05" fill="#a5052f"/>
<rect x="176.50" y="306.30" width="32.20" height="10.30" fill="#b5d0ee"/>
<rect x="209.70" y="306.30" width="228.50" height="10.30" fill="#d6928a"/>
<line x1="176.50" y1="306.30" x2="438.20" y2="306.30" stroke="#231f20" stroke-width="0.8"/>
<line x1="176.50" y1="306.30" x2="176.50" y2="316.60" stroke="#231f20" stroke-width="0.8"/>
<line x1="438.20" y1="306.30" x2="438.20" y2="316.60" stroke="#231f20" stroke-width="0.8"/>
<text x="192.90" y="313.90" font-size="8.2" text-anchor="middle" font-weight="bold" fill="#111" stroke="#111">DNA</text>
<text x="323.75" y="313.90" font-size="8.2" text-anchor="middle" font-weight="bold" fill="#111" stroke="#111">RNA</text>
<rect x="242.20" y="326.90" width="31.60" height="8.35" fill="#e9eadf"/>
<rect x="275.00" y="326.90" width="31.40" height="8.35" fill="#e9eadf"/>
<rect x="177.10" y="336.25" width="31.60" height="8.35" fill="#e9eadf"/>
<rect x="209.90" y="336.25" width="31.10" height="8.35" fill="#e9eadf"/>
<rect x="242.20" y="336.25" width="31.60" height="8.35" fill="#7f7f7f"/>
<rect x="275.00" y="336.25" width="31.40" height="8.35" fill="#c4c4c4"/>
<rect x="307.60" y="336.25" width="31.60" height="8.35" fill="#e9eadf"/>
<rect x="340.40" y="336.25" width="31.70" height="8.35" fill="#e9eadf"/>
<rect x="177.10" y="345.60" width="31.60" height="8.35" fill="#e9eadf"/>
<rect x="242.20" y="345.60" width="31.60" height="8.35" fill="#c4c4c4"/>
<rect x="275.00" y="345.60" width="31.40" height="8.35" fill="#c4c4c4"/>
<rect x="307.60" y="345.60" width="31.60" height="8.35" fill="#e9eadf"/>
<rect x="340.40" y="345.60" width="31.70" height="8.35" fill="#e9eadf"/>
<rect x="177.10" y="354.96" width="31.60" height="8.35" fill="#e9eadf"/>
<rect x="209.90" y="354.96" width="31.10" height="8.35" fill="#e9eadf"/>
<rect x="242.20" y="354.96" width="31.60" height="8.35" fill="#e9eadf"/>
<rect x="275.00" y="354.96" width="31.40" height="8.35" fill="#e9eadf"/>
<rect x="177.10" y="364.31" width="31.60" height="8.35" fill="#e9eadf"/>
<rect x="242.20" y="364.31" width="31.60" height="8.35" fill="#e9eadf"/>
<rect x="275.00" y="364.31" width="31.40" height="8.35" fill="#e9eadf"/>
<rect x="307.60" y="364.31" width="31.60" height="8.35" fill="#e9eadf"/>
<rect x="373.30" y="364.31" width="31.60" height="8.35" fill="#e9eadf"/>
<rect x="177.10" y="373.66" width="31.60" height="8.35" fill="#e9eadf"/>
<rect x="209.90" y="373.66" width="31.10" height="8.35" fill="#e9eadf"/>
<rect x="242.20" y="373.66" width="31.60" height="8.35" fill="#e9eadf"/>
<rect x="275.00" y="373.66" width="31.40" height="8.35" fill="#e9eadf"/>
<rect x="340.40" y="373.66" width="31.70" height="8.35" fill="#e9eadf"/>
<rect x="373.30" y="373.66" width="31.60" height="8.35" fill="#c4c4c4"/>
<rect x="177.10" y="383.01" width="31.60" height="8.35" fill="#e9eadf"/>
<rect x="209.90" y="383.01" width="31.10" height="8.35" fill="#e9eadf"/>
<rect x="242.20" y="383.01" width="31.60" height="8.35" fill="#c4c4c4"/>
<rect x="275.00" y="383.01" width="31.40" height="8.35" fill="#e9eadf"/>
<rect x="307.60" y="383.01" width="31.60" height="8.35" fill="#e9eadf"/>
<rect x="177.10" y="392.37" width="31.60" height="8.35" fill="#e9eadf"/>
<rect x="209.90" y="392.37" width="31.10" height="8.35" fill="#e9eadf"/>
<rect x="242.20" y="392.37" width="31.60" height="8.35" fill="#e9eadf"/>
<rect x="275.00" y="392.37" width="31.40" height="8.35" fill="#c4c4c4"/>
<rect x="177.10" y="401.72" width="31.60" height="8.35" fill="#e9eadf"/>
<rect x="209.90" y="401.72" width="31.10" height="8.35" fill="#e9eadf"/>
<rect x="242.20" y="401.72" width="31.60" height="8.35" fill="#c4c4c4"/>
<rect x="275.00" y="401.72" width="31.40" height="8.35" fill="#c4c4c4"/>
<rect x="177.10" y="411.07" width="31.60" height="8.35" fill="#e9eadf"/>
<rect x="209.90" y="411.07" width="31.10" height="8.35" fill="#e9eadf"/>
<rect x="242.20" y="411.07" width="31.60" height="8.35" fill="#e9eadf"/>
<rect x="275.00" y="411.07" width="31.40" height="8.35" fill="#c4c4c4"/>
<rect x="307.60" y="411.07" width="31.60" height="8.35" fill="#e9eadf"/>
<rect x="177.10" y="420.42" width="31.60" height="8.35" fill="#e9eadf"/>
<rect x="209.90" y="420.42" width="31.10" height="8.35" fill="#e9eadf"/>
<rect x="242.20" y="420.42" width="31.60" height="8.35" fill="#c4c4c4"/>
<rect x="275.00" y="420.42" width="31.40" height="8.35" fill="#e9eadf"/>
<rect x="307.60" y="420.42" width="31.60" height="8.35" fill="#e9eadf"/>
<rect x="340.40" y="420.42" width="31.70" height="8.35" fill="#e9eadf"/>
<rect x="373.30" y="420.42" width="31.60" height="8.35" fill="#e9eadf"/>
<rect x="177.10" y="429.77" width="31.60" height="8.35" fill="#e9eadf"/>
<rect x="209.90" y="429.77" width="31.10" height="8.35" fill="#e9eadf"/>
<rect x="242.20" y="429.77" width="31.60" height="8.35" fill="#c4c4c4"/>
<rect x="275.00" y="429.77" width="31.40" height="8.35" fill="#e9eadf"/>
<rect x="307.60" y="429.77" width="31.60" height="8.35" fill="#e9eadf"/>
<rect x="177.10" y="439.13" width="31.60" height="8.35" fill="#e9eadf"/>
<rect x="209.90" y="439.13" width="31.10" height="8.35" fill="#e9eadf"/>
<rect x="242.20" y="439.13" width="31.60" height="8.35" fill="#c4c4c4"/>
<rect x="275.00" y="439.13" width="31.40" height="8.35" fill="#c4c4c4"/>
<rect x="177.10" y="448.48" width="31.60" height="8.35" fill="#e9eadf"/>
<rect x="209.90" y="448.48" width="31.10" height="8.35" fill="#e9eadf"/>
<rect x="242.20" y="448.48" width="31.60" height="8.35" fill="#c4c4c4"/>
<rect x="275.00" y="448.48" width="31.40" height="8.35" fill="#c4c4c4"/>
<rect x="307.60" y="448.48" width="31.60" height="8.35" fill="#e9eadf"/>
<rect x="340.40" y="448.48" width="31.70" height="8.35" fill="#e9eadf"/>
<rect x="177.10" y="457.83" width="31.60" height="8.35" fill="#e9eadf"/>
<rect x="209.90" y="457.83" width="31.10" height="8.35" fill="#e9eadf"/>
<rect x="242.20" y="457.83" width="31.60" height="8.35" fill="#c4c4c4"/>
<rect x="275.00" y="457.83" width="31.40" height="8.35" fill="#c4c4c4"/>
<rect x="307.60" y="457.83" width="31.60" height="8.35" fill="#e9eadf"/>
<rect x="177.10" y="467.18" width="31.60" height="8.35" fill="#e9eadf"/>
<rect x="209.90" y="467.18" width="31.10" height="8.35" fill="#e9eadf"/>
<rect x="242.20" y="467.18" width="31.60" height="8.35" fill="#e9eadf"/>
<rect x="275.00" y="467.18" width="31.40" height="8.35" fill="#c4c4c4"/>
<rect x="307.60" y="467.18" width="31.60" height="8.35" fill="#e9eadf"/>
<rect x="177.10" y="476.53" width="31.60" height="8.35" fill="#e9eadf"/>
<rect x="209.90" y="476.53" width="31.10" height="8.35" fill="#e9eadf"/>
<rect x="242.20" y="476.53" width="31.60" height="8.35" fill="#c4c4c4"/>
<rect x="275.00" y="476.53" width="31.40" height="8.35" fill="#c4c4c4"/>
<rect x="307.60" y="476.53" width="31.60" height="8.35" fill="#e9eadf"/>
<rect x="177.10" y="485.89" width="31.60" height="8.35" fill="#e9eadf"/>
<rect x="209.90" y="485.89" width="31.10" height="8.35" fill="#e9eadf"/>
<rect x="242.20" y="485.89" width="31.60" height="8.35" fill="#7f7f7f"/>
<rect x="275.00" y="485.89" width="31.40" height="8.35" fill="#7f7f7f"/>
<rect x="307.60" y="485.89" width="31.60" height="8.35" fill="#e9eadf"/>
<rect x="340.40" y="485.89" width="31.70" height="8.35" fill="#e9eadf"/>
<rect x="373.30" y="485.89" width="31.60" height="8.35" fill="#e9eadf"/>
<rect x="177.10" y="495.24" width="31.60" height="8.35" fill="#e9eadf"/>
<rect x="209.90" y="495.24" width="31.10" height="8.35" fill="#e9eadf"/>
<rect x="242.20" y="495.24" width="31.60" height="8.35" fill="#e9eadf"/>
<rect x="275.00" y="495.24" width="31.40" height="8.35" fill="#e9eadf"/>
<rect x="307.60" y="495.24" width="31.60" height="8.35" fill="#c4c4c4"/>
<rect x="177.10" y="504.59" width="31.60" height="8.35" fill="#e9eadf"/>
<rect x="209.90" y="504.59" width="31.10" height="8.35" fill="#e9eadf"/>
<rect x="242.20" y="504.59" width="31.60" height="8.35" fill="#c4c4c4"/>
<rect x="275.00" y="504.59" width="31.40" height="8.35" fill="#e9eadf"/>
<rect x="307.60" y="504.59" width="31.60" height="8.35" fill="#e9eadf"/>
<rect x="177.10" y="513.94" width="31.60" height="8.35" fill="#e9eadf"/>
<rect x="209.90" y="513.94" width="31.10" height="8.35" fill="#e9eadf"/>
<rect x="242.20" y="513.94" width="31.60" height="8.35" fill="#c4c4c4"/>
<rect x="275.00" y="513.94" width="31.40" height="8.35" fill="#c4c4c4"/>
<rect x="307.60" y="513.94" width="31.60" height="8.35" fill="#e9eadf"/>
<rect x="373.30" y="513.94" width="31.60" height="8.35" fill="#e9eadf"/>
<rect x="177.10" y="523.30" width="31.60" height="8.35" fill="#e9eadf"/>
<rect x="209.90" y="523.30" width="31.10" height="8.35" fill="#e9eadf"/>
<rect x="242.20" y="523.30" width="31.60" height="8.35" fill="#e9eadf"/>
<rect x="275.00" y="523.30" width="31.40" height="8.35" fill="#c4c4c4"/>
<rect x="307.60" y="523.30" width="31.60" height="8.35" fill="#e9eadf"/>
<rect x="340.40" y="523.30" width="31.70" height="8.35" fill="#e9eadf"/>
<rect x="177.10" y="532.65" width="31.60" height="8.35" fill="#e9eadf"/>
<rect x="209.90" y="532.65" width="31.10" height="8.35" fill="#e9eadf"/>
<rect x="242.20" y="532.65" width="31.60" height="8.35" fill="#7f7f7f"/>
<rect x="275.00" y="532.65" width="31.40" height="8.35" fill="#c4c4c4"/>
<rect x="307.60" y="532.65" width="31.60" height="8.35" fill="#e9eadf"/>
<text x="60.05" y="324.30" font-size="8.0" text-anchor="middle" font-weight="bold" fill="#111" stroke="#111" textLength="17.3" lengthAdjust="spacingAndGlyphs">UPN</text>
<text x="93.15" y="324.30" font-size="8.0" text-anchor="middle" font-weight="bold" fill="#111" stroke="#111" textLength="36.3" lengthAdjust="spacingAndGlyphs">Diagnosis</text>
<text x="144.95" y="324.30" font-size="8.0" text-anchor="middle" font-weight="bold" fill="#111" stroke="#111" textLength="60.3" lengthAdjust="spacingAndGlyphs">Driver mutation</text>
<text x="192.90" y="324.30" font-size="8.0" text-anchor="middle" font-weight="bold" fill="#111" stroke="#111">GRA</text>
<text x="225.45" y="324.30" font-size="8.0" text-anchor="middle" font-weight="bold" fill="#111" stroke="#111">GRA</text>
<text x="258.00" y="324.30" font-size="8.0" text-anchor="middle" font-weight="bold" fill="#111" stroke="#111">PLT</text>
<text x="290.70" y="324.30" font-size="8.0" text-anchor="middle" font-weight="bold" fill="#111" stroke="#111">RET</text>
<text x="323.40" y="324.30" font-size="8.0" text-anchor="middle" font-weight="bold" fill="#111" stroke="#111">MO</text>
<text x="356.25" y="324.30" font-size="8.0" text-anchor="middle" font-weight="bold" fill="#111" stroke="#111">NK</text>
<text x="389.10" y="324.30" font-size="8.0" text-anchor="middle" font-weight="bold" fill="#111" stroke="#111">B</text>
<text x="421.85" y="324.30" font-size="8.0" text-anchor="middle" font-weight="bold" fill="#111" stroke="#111">T</text>
<text x="50.00" y="333.95" font-size="8.2" text-anchor="start" fill="#222" stroke="#222" textLength="17.8" lengthAdjust="spacingAndGlyphs">P218</text>
<text x="93.15" y="333.95" font-size="8.2" text-anchor="middle" fill="#b8103a" stroke="#b8103a" textLength="9.1" lengthAdjust="spacingAndGlyphs">PV</text>
<text x="144.95" y="333.95" font-size="8.2" text-anchor="middle" fill="#3d5996" stroke="#3d5996" textLength="49.6" lengthAdjust="spacingAndGlyphs"><tspan font-style="italic">JAK2</tspan> exon 12</text>
<text x="192.90" y="333.95" font-size="8.2" text-anchor="middle" fill="#222" stroke="#222" textLength="4.28" lengthAdjust="spacingAndGlyphs">0</text>
<text x="225.45" y="333.95" font-size="8.2" text-anchor="middle" fill="#222" stroke="#222" textLength="4.28" lengthAdjust="spacingAndGlyphs">0</text>
<text x="258.00" y="333.95" font-size="8.2" text-anchor="middle" fill="#222" stroke="#222" textLength="4.28" lengthAdjust="spacingAndGlyphs">2</text>
<text x="290.70" y="333.95" font-size="8.2" text-anchor="middle" fill="#222" stroke="#222" textLength="8.56" lengthAdjust="spacingAndGlyphs">19</text>
<text x="323.40" y="333.95" font-size="8.2" text-anchor="middle" fill="#222" stroke="#222" textLength="4.28" lengthAdjust="spacingAndGlyphs">0</text>
<text x="356.25" y="333.95" font-size="8.2" text-anchor="middle" fill="#222" stroke="#222" textLength="4.28" lengthAdjust="spacingAndGlyphs">0</text>
<text x="389.10" y="333.95" font-size="8.2" text-anchor="middle" fill="#222" stroke="#222" textLength="4.28" lengthAdjust="spacingAndGlyphs">0</text>
<text x="421.85" y="333.95" font-size="8.2" text-anchor="middle" fill="#222" stroke="#222" textLength="4.28" lengthAdjust="spacingAndGlyphs">0</text>
<text x="50.00" y="343.30" font-size="8.2" text-anchor="start" fill="#222" stroke="#222" textLength="17.8" lengthAdjust="spacingAndGlyphs">P021</text>
<text x="93.15" y="343.30" font-size="8.2" text-anchor="middle" fill="#b8103a" stroke="#b8103a" textLength="9.1" lengthAdjust="spacingAndGlyphs">PV</text>
<text x="144.95" y="343.30" font-size="8.2" text-anchor="middle" fill="#3d5996" stroke="#3d5996" textLength="49.6" lengthAdjust="spacingAndGlyphs"><tspan font-style="italic">JAK2</tspan> exon 12</text>
<text x="192.90" y="343.30" font-size="8.2" text-anchor="middle" fill="#222" stroke="#222" textLength="4.28" lengthAdjust="spacingAndGlyphs">5</text>
<text x="225.45" y="343.30" font-size="8.2" text-anchor="middle" fill="#222" stroke="#222" textLength="4.28" lengthAdjust="spacingAndGlyphs">8</text>
<text x="258.00" y="343.30" font-size="8.2" text-anchor="middle" fill="#f0f0f0" stroke="#f0f0f0" textLength="8.56" lengthAdjust="spacingAndGlyphs">41</text>
<text x="290.70" y="343.30" font-size="8.2" text-anchor="middle" fill="#222" stroke="#222" textLength="8.56" lengthAdjust="spacingAndGlyphs">28</text>
<text x="323.40" y="343.30" font-size="8.2" text-anchor="middle" fill="#222" stroke="#222" textLength="4.28" lengthAdjust="spacingAndGlyphs">4</text>
<text x="356.25" y="343.30" font-size="8.2" text-anchor="middle" fill="#222" stroke="#222" textLength="4.28" lengthAdjust="spacingAndGlyphs">3</text>
<text x="389.10" y="343.30" font-size="8.2" text-anchor="middle" fill="#222" stroke="#222" textLength="4.28" lengthAdjust="spacingAndGlyphs">0</text>
<text x="421.85" y="343.30" font-size="8.2" text-anchor="middle" fill="#222" stroke="#222" textLength="4.28" lengthAdjust="spacingAndGlyphs">0</text>
<text x="50.00" y="352.66" font-size="8.2" text-anchor="start" fill="#222" stroke="#222" textLength="17.8" lengthAdjust="spacingAndGlyphs">P021</text>
<text x="93.15" y="352.66" font-size="8.2" text-anchor="middle" fill="#b8103a" stroke="#b8103a" textLength="9.1" lengthAdjust="spacingAndGlyphs">PV</text>
<text x="144.95" y="352.66" font-size="8.2" text-anchor="middle" fill="#222" stroke="#222" textLength="43.2" lengthAdjust="spacingAndGlyphs">JAK2-V617F</text>
<text x="192.90" y="352.66" font-size="8.2" text-anchor="middle" fill="#222" stroke="#222" textLength="4.28" lengthAdjust="spacingAndGlyphs">2</text>
<text x="225.45" y="352.66" font-size="8.2" text-anchor="middle" fill="#222" stroke="#222" textLength="4.28" lengthAdjust="spacingAndGlyphs">0</text>
<text x="258.00" y="352.66" font-size="8.2" text-anchor="middle" fill="#222" stroke="#222" textLength="8.56" lengthAdjust="spacingAndGlyphs">34</text>
<text x="290.70" y="352.66" font-size="8.2" text-anchor="middle" fill="#222" stroke="#222" textLength="8.56" lengthAdjust="spacingAndGlyphs">35</text>
<text x="323.40" y="352.66" font-size="8.2" text-anchor="middle" fill="#222" stroke="#222" textLength="4.28" lengthAdjust="spacingAndGlyphs">7</text>
<text x="356.25" y="352.66" font-size="8.2" text-anchor="middle" fill="#222" stroke="#222" textLength="4.28" lengthAdjust="spacingAndGlyphs">1</text>
<text x="50.00" y="362.01" font-size="8.2" text-anchor="start" fill="#222" stroke="#222" textLength="17.8" lengthAdjust="spacingAndGlyphs">P298</text>
<text x="93.15" y="362.01" font-size="8.2" text-anchor="middle" fill="#b8103a" stroke="#b8103a" textLength="9.1" lengthAdjust="spacingAndGlyphs">PV</text>
<text x="144.95" y="362.01" font-size="8.2" text-anchor="middle" fill="#222" stroke="#222" textLength="43.2" lengthAdjust="spacingAndGlyphs">JAK2-V617F</text>
<text x="192.90" y="362.01" font-size="8.2" text-anchor="middle" fill="#222" stroke="#222" textLength="4.28" lengthAdjust="spacingAndGlyphs">2</text>
<text x="225.45" y="362.01" font-size="8.2" text-anchor="middle" fill="#222" stroke="#222" textLength="4.28" lengthAdjust="spacingAndGlyphs">3</text>
<text x="258.00" y="362.01" font-size="8.2" text-anchor="middle" fill="#222" stroke="#222" textLength="4.28" lengthAdjust="spacingAndGlyphs">4</text>
<text x="290.70" y="362.01" font-size="8.2" text-anchor="middle" fill="#222" stroke="#222" textLength="4.28" lengthAdjust="spacingAndGlyphs">5</text>
<text x="323.40" y="362.01" font-size="8.2" text-anchor="middle" fill="#222" stroke="#222" textLength="4.28" lengthAdjust="spacingAndGlyphs">0</text>
<text x="356.25" y="362.01" font-size="8.2" text-anchor="middle" fill="#222" stroke="#222" textLength="4.28" lengthAdjust="spacingAndGlyphs">0</text>
<text x="389.10" y="362.01" font-size="8.2" text-anchor="middle" fill="#222" stroke="#222" textLength="4.28" lengthAdjust="spacingAndGlyphs">0</text>
<text x="421.85" y="362.01" font-size="8.2" text-anchor="middle" fill="#222" stroke="#222" textLength="4.28" lengthAdjust="spacingAndGlyphs">0</text>
<text x="50.00" y="371.36" font-size="8.2" text-anchor="start" fill="#222" stroke="#222" textLength="17.8" lengthAdjust="spacingAndGlyphs">P386</text>
<text x="93.15" y="371.36" font-size="8.2" text-anchor="middle" fill="#ec9a28" stroke="#ec9a28" textLength="8.4" lengthAdjust="spacingAndGlyphs">ET</text>
<text x="144.95" y="371.36" font-size="8.2" text-anchor="middle" fill="#222" stroke="#222" textLength="43.2" lengthAdjust="spacingAndGlyphs">JAK2-V617F</text>
<text x="192.90" y="371.36" font-size="8.2" text-anchor="middle" fill="#222" stroke="#222" textLength="4.28" lengthAdjust="spacingAndGlyphs">3</text>
<text x="225.45" y="371.36" font-size="8.2" text-anchor="middle" fill="#222" stroke="#222" textLength="4.28" lengthAdjust="spacingAndGlyphs">0</text>
<text x="258.00" y="371.36" font-size="8.2" text-anchor="middle" fill="#222" stroke="#222" textLength="8.56" lengthAdjust="spacingAndGlyphs">12</text>
<text x="290.70" y="371.36" font-size="8.2" text-anchor="middle" fill="#222" stroke="#222" textLength="4.28" lengthAdjust="spacingAndGlyphs">9</text>
<text x="323.40" y="371.36" font-size="8.2" text-anchor="middle" fill="#222" stroke="#222" textLength="4.28" lengthAdjust="spacingAndGlyphs">9</text>
<text x="356.25" y="371.36" font-size="8.2" text-anchor="middle" fill="#222" stroke="#222" textLength="4.28" lengthAdjust="spacingAndGlyphs">0</text>
<text x="389.10" y="371.36" font-size="8.2" text-anchor="middle" fill="#222" stroke="#222" textLength="4.28" lengthAdjust="spacingAndGlyphs">6</text>
<text x="421.85" y="371.36" font-size="8.2" text-anchor="middle" fill="#222" stroke="#222" textLength="4.28" lengthAdjust="spacingAndGlyphs">0</text>
<text x="50.00" y="380.71" font-size="8.2" text-anchor="start" fill="#222" stroke="#222" textLength="17.8" lengthAdjust="spacingAndGlyphs">P403</text>
<text x="93.15" y="380.71" font-size="8.2" text-anchor="middle" fill="#ec9a28" stroke="#ec9a28" textLength="8.4" lengthAdjust="spacingAndGlyphs">ET</text>
<text x="144.95" y="380.71" font-size="8.2" text-anchor="middle" fill="#222" stroke="#222" textLength="43.2" lengthAdjust="spacingAndGlyphs">JAK2-V617F</text>
<text x="192.90" y="380.71" font-size="8.2" text-anchor="middle" fill="#222" stroke="#222" textLength="4.28" lengthAdjust="spacingAndGlyphs">4</text>
<text x="225.45" y="380.71" font-size="8.2" text-anchor="middle" fill="#222" stroke="#222" textLength="4.28" lengthAdjust="spacingAndGlyphs">5</text>
<text x="258.00" y="380.71" font-size="8.2" text-anchor="middle" fill="#222" stroke="#222" textLength="8.56" lengthAdjust="spacingAndGlyphs">10</text>
<text x="290.70" y="380.71" font-size="8.2" text-anchor="middle" fill="#222" stroke="#222" textLength="8.56" lengthAdjust="spacingAndGlyphs">13</text>
<text x="323.40" y="380.71" font-size="8.2" text-anchor="middle" fill="#222" stroke="#222" textLength="4.28" lengthAdjust="spacingAndGlyphs">0</text>
<text x="356.25" y="380.71" font-size="8.2" text-anchor="middle" fill="#222" stroke="#222" textLength="4.28" lengthAdjust="spacingAndGlyphs">7</text>
<text x="389.10" y="380.71" font-size="8.2" text-anchor="middle" fill="#222" stroke="#222" textLength="8.56" lengthAdjust="spacingAndGlyphs">34</text>
<text x="421.85" y="380.71" font-size="8.2" text-anchor="middle" fill="#222" stroke="#222" textLength="4.28" lengthAdjust="spacingAndGlyphs">0</text>
<text x="50.00" y="390.07" font-size="8.2" text-anchor="start" fill="#222" stroke="#222" textLength="17.8" lengthAdjust="spacingAndGlyphs">P433</text>
<text x="93.15" y="390.07" font-size="8.2" text-anchor="middle" fill="#ec9a28" stroke="#ec9a28" textLength="8.4" lengthAdjust="spacingAndGlyphs">ET</text>
<text x="144.95" y="390.07" font-size="8.2" text-anchor="middle" fill="#222" stroke="#222" textLength="43.2" lengthAdjust="spacingAndGlyphs">JAK2-V617F</text>
<text x="192.90" y="390.07" font-size="8.2" text-anchor="middle" fill="#222" stroke="#222" textLength="4.28" lengthAdjust="spacingAndGlyphs">2</text>
<text x="225.45" y="390.07" font-size="8.2" text-anchor="middle" fill="#222" stroke="#222" textLength="4.28" lengthAdjust="spacingAndGlyphs">5</text>
<text x="258.00" y="390.07" font-size="8.2" text-anchor="middle" fill="#222" stroke="#222" textLength="8.56" lengthAdjust="spacingAndGlyphs">30</text>
<text x="290.70" y="390.07" font-size="8.2" text-anchor="middle" fill="#222" stroke="#222" textLength="4.28" lengthAdjust="spacingAndGlyphs">3</text>
<text x="323.40" y="390.07" font-size="8.2" text-anchor="middle" fill="#222" stroke="#222" textLength="4.28" lengthAdjust="spacingAndGlyphs">2</text>
<text x="356.25" y="390.07" font-size="8.2" text-anchor="middle" fill="#222" stroke="#222" textLength="4.28" lengthAdjust="spacingAndGlyphs">0</text>
<text x="389.10" y="390.07" font-size="8.2" text-anchor="middle" fill="#222" stroke="#222" textLength="4.28" lengthAdjust="spacingAndGlyphs">0</text>
<text x="421.85" y="390.07" font-size="8.2" text-anchor="middle" fill="#222" stroke="#222" textLength="4.28" lengthAdjust="spacingAndGlyphs">0</text>
<text x="50.00" y="399.42" font-size="8.2" text-anchor="start" fill="#222" stroke="#222" textLength="17.8" lengthAdjust="spacingAndGlyphs">P368</text>
<text x="93.15" y="399.42" font-size="8.2" text-anchor="middle" fill="#ec9a28" stroke="#ec9a28" textLength="8.4" lengthAdjust="spacingAndGlyphs">ET</text>
<text x="144.95" y="399.42" font-size="8.2" text-anchor="middle" fill="#222" stroke="#222" textLength="43.2" lengthAdjust="spacingAndGlyphs">JAK2-V617F</text>
<text x="192.90" y="399.42" font-size="8.2" text-anchor="middle" fill="#222" stroke="#222" textLength="4.28" lengthAdjust="spacingAndGlyphs">3</text>
<text x="225.45" y="399.42" font-size="8.2" text-anchor="middle" fill="#222" stroke="#222" textLength="4.28" lengthAdjust="spacingAndGlyphs">4</text>
<text x="258.00" y="399.42" font-size="8.2" text-anchor="middle" fill="#222" stroke="#222" textLength="8.56" lengthAdjust="spacingAndGlyphs">20</text>
<text x="290.70" y="399.42" font-size="8.2" text-anchor="middle" fill="#222" stroke="#222" textLength="8.56" lengthAdjust="spacingAndGlyphs">40</text>
<text x="323.40" y="399.42" font-size="8.2" text-anchor="middle" fill="#222" stroke="#222" textLength="4.28" lengthAdjust="spacingAndGlyphs">0</text>
<text x="356.25" y="399.42" font-size="8.2" text-anchor="middle" fill="#222" stroke="#222" textLength="4.28" lengthAdjust="spacingAndGlyphs">0</text>
<text x="389.10" y="399.42" font-size="8.2" text-anchor="middle" fill="#222" stroke="#222" textLength="4.28" lengthAdjust="spacingAndGlyphs">0</text>
<text x="421.85" y="399.42" font-size="8.2" text-anchor="middle" fill="#222" stroke="#222" textLength="4.28" lengthAdjust="spacingAndGlyphs">0</text>
<text x="50.00" y="408.77" font-size="8.2" text-anchor="start" fill="#222" stroke="#222" textLength="17.8" lengthAdjust="spacingAndGlyphs">P339</text>
<text x="93.15" y="408.77" font-size="8.2" text-anchor="middle" fill="#ec9a28" stroke="#ec9a28" textLength="8.4" lengthAdjust="spacingAndGlyphs">ET</text>
<text x="144.95" y="408.77" font-size="8.2" text-anchor="middle" fill="#222" stroke="#222" textLength="43.2" lengthAdjust="spacingAndGlyphs">JAK2-V617F</text>
<text x="192.90" y="408.77" font-size="8.2" text-anchor="middle" fill="#222" stroke="#222" textLength="4.28" lengthAdjust="spacingAndGlyphs">3</text>
<text x="225.45" y="408.77" font-size="8.2" text-anchor="middle" fill="#222" stroke="#222" textLength="4.28" lengthAdjust="spacingAndGlyphs">6</text>
<text x="258.00" y="408.77" font-size="8.2" text-anchor="middle" fill="#222" stroke="#222" textLength="8.56" lengthAdjust="spacingAndGlyphs">36</text>
<text x="290.70" y="408.77" font-size="8.2" text-anchor="middle" fill="#222" stroke="#222" textLength="8.56" lengthAdjust="spacingAndGlyphs">25</text>
<text x="323.40" y="408.77" font-size="8.2" text-anchor="middle" fill="#222" stroke="#222" textLength="4.28" lengthAdjust="spacingAndGlyphs">0</text>
<text x="356.25" y="408.77" font-size="8.2" text-anchor="middle" fill="#222" stroke="#222" textLength="4.28" lengthAdjust="spacingAndGlyphs">0</text>
<text x="389.10" y="408.77" font-size="8.2" text-anchor="middle" fill="#222" stroke="#222" textLength="4.28" lengthAdjust="spacingAndGlyphs">0</text>
<text x="421.85" y="408.77" font-size="8.2" text-anchor="middle" fill="#222" stroke="#222" textLength="4.28" lengthAdjust="spacingAndGlyphs">0</text>
<text x="50.00" y="418.12" font-size="8.2" text-anchor="start" fill="#222" stroke="#222" textLength="17.8" lengthAdjust="spacingAndGlyphs">P328</text>
<text x="93.15" y="418.12" font-size="8.2" text-anchor="middle" fill="#b8103a" stroke="#b8103a" textLength="9.1" lengthAdjust="spacingAndGlyphs">PV</text>
<text x="144.95" y="418.12" font-size="8.2" text-anchor="middle" fill="#222" stroke="#222" textLength="43.2" lengthAdjust="spacingAndGlyphs">JAK2-V617F</text>
<text x="192.90" y="418.12" font-size="8.2" text-anchor="middle" fill="#222" stroke="#222" textLength="4.28" lengthAdjust="spacingAndGlyphs">4</text>
<text x="225.45" y="418.12" font-size="8.2" text-anchor="middle" fill="#222" stroke="#222" textLength="4.28" lengthAdjust="spacingAndGlyphs">3</text>
<text x="258.00" y="418.12" font-size="8.2" text-anchor="middle" fill="#222" stroke="#222" textLength="4.28" lengthAdjust="spacingAndGlyphs">7</text>
<text x="290.70" y="418.12" font-size="8.2" text-anchor="middle" fill="#222" stroke="#222" textLength="8.56" lengthAdjust="spacingAndGlyphs">25</text>
<text x="323.40" y="418.12" font-size="8.2" text-anchor="middle" fill="#222" stroke="#222" textLength="4.28" lengthAdjust="spacingAndGlyphs">2</text>
<text x="356.25" y="418.12" font-size="8.2" text-anchor="middle" fill="#222" stroke="#222" textLength="4.28" lengthAdjust="spacingAndGlyphs">0</text>
<text x="389.10" y="418.12" font-size="8.2" text-anchor="middle" fill="#222" stroke="#222" textLength="4.28" lengthAdjust="spacingAndGlyphs">0</text>
<text x="421.85" y="418.12" font-size="8.2" text-anchor="middle" fill="#222" stroke="#222" textLength="4.28" lengthAdjust="spacingAndGlyphs">0</text>
<text x="50.00" y="427.47" font-size="8.2" text-anchor="start" fill="#222" stroke="#222" textLength="17.8" lengthAdjust="spacingAndGlyphs">P162</text>
<text x="93.15" y="427.47" font-size="8.2" text-anchor="middle" fill="#ec9a28" stroke="#ec9a28" textLength="8.4" lengthAdjust="spacingAndGlyphs">ET</text>
<text x="144.95" y="427.47" font-size="8.2" text-anchor="middle" fill="#222" stroke="#222" textLength="43.2" lengthAdjust="spacingAndGlyphs">JAK2-V617F</text>
<text x="192.90" y="427.47" font-size="8.2" text-anchor="middle" fill="#222" stroke="#222" textLength="4.28" lengthAdjust="spacingAndGlyphs">4</text>
<text x="225.45" y="427.47" font-size="8.2" text-anchor="middle" fill="#222" stroke="#222" textLength="4.28" lengthAdjust="spacingAndGlyphs">7</text>
<text x="258.00" y="427.47" font-size="8.2" text-anchor="middle" fill="#222" stroke="#222" textLength="8.56" lengthAdjust="spacingAndGlyphs">25</text>
<text x="290.70" y="427.47" font-size="8.2" text-anchor="middle" fill="#222" stroke="#222" textLength="4.28" lengthAdjust="spacingAndGlyphs">7</text>
<text x="323.40" y="427.47" font-size="8.2" text-anchor="middle" fill="#222" stroke="#222" textLength="4.28" lengthAdjust="spacingAndGlyphs">5</text>
<text x="356.25" y="427.47" font-size="8.2" text-anchor="middle" fill="#222" stroke="#222" textLength="4.28" lengthAdjust="spacingAndGlyphs">2</text>
<text x="389.10" y="427.47" font-size="8.2" text-anchor="middle" fill="#222" stroke="#222" textLength="4.28" lengthAdjust="spacingAndGlyphs">4</text>
<text x="421.85" y="427.47" font-size="8.2" text-anchor="middle" fill="#222" stroke="#222" textLength="4.28" lengthAdjust="spacingAndGlyphs">0</text>
<text x="50.00" y="436.83" font-size="8.2" text-anchor="start" fill="#222" stroke="#222" textLength="17.8" lengthAdjust="spacingAndGlyphs">P393</text>
<text x="93.15" y="436.83" font-size="8.2" text-anchor="middle" fill="#b8103a" stroke="#b8103a" textLength="9.1" lengthAdjust="spacingAndGlyphs">PV</text>
<text x="144.95" y="436.83" font-size="8.2" text-anchor="middle" fill="#222" stroke="#222" textLength="43.2" lengthAdjust="spacingAndGlyphs">JAK2-V617F</text>
<text x="192.90" y="436.83" font-size="8.2" text-anchor="middle" fill="#222" stroke="#222" textLength="4.28" lengthAdjust="spacingAndGlyphs">7</text>
<text x="225.45" y="436.83" font-size="8.2" text-anchor="middle" fill="#222" stroke="#222" textLength="8.56" lengthAdjust="spacingAndGlyphs">10</text>
<text x="258.00" y="436.83" font-size="8.2" text-anchor="middle" fill="#222" stroke="#222" textLength="8.56" lengthAdjust="spacingAndGlyphs">27</text>
<text x="290.70" y="436.83" font-size="8.2" text-anchor="middle" fill="#222" stroke="#222" textLength="8.56" lengthAdjust="spacingAndGlyphs">17</text>
<text x="323.40" y="436.83" font-size="8.2" text-anchor="middle" fill="#222" stroke="#222" textLength="4.28" lengthAdjust="spacingAndGlyphs">7</text>
<text x="356.25" y="436.83" font-size="8.2" text-anchor="middle" fill="#222" stroke="#222" textLength="4.28" lengthAdjust="spacingAndGlyphs">0</text>
<text x="389.10" y="436.83" font-size="8.2" text-anchor="middle" fill="#222" stroke="#222" textLength="4.28" lengthAdjust="spacingAndGlyphs">0</text>
<text x="421.85" y="436.83" font-size="8.2" text-anchor="middle" fill="#222" stroke="#222" textLength="4.28" lengthAdjust="spacingAndGlyphs">0</text>
<text x="50.00" y="446.18" font-size="8.2" text-anchor="start" fill="#222" stroke="#222" textLength="17.8" lengthAdjust="spacingAndGlyphs">P391</text>
<text x="93.15" y="446.18" font-size="8.2" text-anchor="middle" fill="#c47a2a" stroke="#c47a2a" textLength="16.2" lengthAdjust="spacingAndGlyphs">PMF</text>
<text x="144.95" y="446.18" font-size="8.2" text-anchor="middle" fill="#222" stroke="#222" textLength="43.2" lengthAdjust="spacingAndGlyphs">JAK2-V617F</text>
<text x="192.90" y="446.18" font-size="8.2" text-anchor="middle" fill="#222" stroke="#222" textLength="4.28" lengthAdjust="spacingAndGlyphs">7</text>
<text x="225.45" y="446.18" font-size="8.2" text-anchor="middle" fill="#222" stroke="#222" textLength="4.28" lengthAdjust="spacingAndGlyphs">9</text>
<text x="258.00" y="446.18" font-size="8.2" text-anchor="middle" fill="#222" stroke="#222" textLength="8.56" lengthAdjust="spacingAndGlyphs">39</text>
<text x="290.70" y="446.18" font-size="8.2" text-anchor="middle" fill="#222" stroke="#222" textLength="8.56" lengthAdjust="spacingAndGlyphs">34</text>
<text x="323.40" y="446.18" font-size="8.2" text-anchor="middle" fill="#222" stroke="#222" textLength="4.28" lengthAdjust="spacingAndGlyphs">0</text>
<text x="356.25" y="446.18" font-size="8.2" text-anchor="middle" fill="#222" stroke="#222" textLength="4.28" lengthAdjust="spacingAndGlyphs">0</text>
<text x="389.10" y="446.18" font-size="8.2" text-anchor="middle" fill="#222" stroke="#222" textLength="4.28" lengthAdjust="spacingAndGlyphs">0</text>
<text x="421.85" y="446.18" font-size="8.2" text-anchor="middle" fill="#222" stroke="#222" textLength="4.28" lengthAdjust="spacingAndGlyphs">0</text>
<text x="50.00" y="455.53" font-size="8.2" text-anchor="start" fill="#222" stroke="#222" textLength="17.8" lengthAdjust="spacingAndGlyphs">P361</text>
<text x="93.15" y="455.53" font-size="8.2" text-anchor="middle" fill="#b8103a" stroke="#b8103a" textLength="9.1" lengthAdjust="spacingAndGlyphs">PV</text>
<text x="144.95" y="455.53" font-size="8.2" text-anchor="middle" fill="#222" stroke="#222" textLength="43.2" lengthAdjust="spacingAndGlyphs">JAK2-V617F</text>
<text x="192.90" y="455.53" font-size="8.2" text-anchor="middle" fill="#222" stroke="#222" textLength="4.28" lengthAdjust="spacingAndGlyphs">9</text>
<text x="225.45" y="455.53" font-size="8.2" text-anchor="middle" fill="#222" stroke="#222" textLength="7.99" lengthAdjust="spacingAndGlyphs">11</text>
<text x="258.00" y="455.53" font-size="8.2" text-anchor="middle" fill="#222" stroke="#222" textLength="8.56" lengthAdjust="spacingAndGlyphs">25</text>
<text x="290.70" y="455.53" font-size="8.2" text-anchor="middle" fill="#222" stroke="#222" textLength="8.56" lengthAdjust="spacingAndGlyphs">27</text>
<text x="323.40" y="455.53" font-size="8.2" text-anchor="middle" fill="#222" stroke="#222" textLength="8.56" lengthAdjust="spacingAndGlyphs">14</text>
<text x="356.25" y="455.53" font-size="8.2" text-anchor="middle" fill="#222" stroke="#222" textLength="4.28" lengthAdjust="spacingAndGlyphs">6</text>
<text x="389.10" y="455.53" font-size="8.2" text-anchor="middle" fill="#222" stroke="#222" textLength="4.28" lengthAdjust="spacingAndGlyphs">0</text>
<text x="421.85" y="455.53" font-size="8.2" text-anchor="middle" fill="#222" stroke="#222" textLength="4.28" lengthAdjust="spacingAndGlyphs">0</text>
<text x="50.00" y="464.88" font-size="8.2" text-anchor="start" fill="#222" stroke="#222" textLength="17.8" lengthAdjust="spacingAndGlyphs">P357</text>
<text x="93.15" y="464.88" font-size="8.2" text-anchor="middle" fill="#b8103a" stroke="#b8103a" textLength="9.1" lengthAdjust="spacingAndGlyphs">PV</text>
<text x="144.95" y="464.88" font-size="8.2" text-anchor="middle" fill="#222" stroke="#222" textLength="43.2" lengthAdjust="spacingAndGlyphs">JAK2-V617F</text>
<text x="192.90" y="464.88" font-size="8.2" text-anchor="middle" fill="#222" stroke="#222" textLength="4.28" lengthAdjust="spacingAndGlyphs">9</text>
<text x="225.45" y="464.88" font-size="8.2" text-anchor="middle" fill="#222" stroke="#222" textLength="8.56" lengthAdjust="spacingAndGlyphs">13</text>
<text x="258.00" y="464.88" font-size="8.2" text-anchor="middle" fill="#222" stroke="#222" textLength="8.56" lengthAdjust="spacingAndGlyphs">25</text>
<text x="290.70" y="464.88" font-size="8.2" text-anchor="middle" fill="#222" stroke="#222" textLength="8.56" lengthAdjust="spacingAndGlyphs">34</text>
<text x="323.40" y="464.88" font-size="8.2" text-anchor="middle" fill="#222" stroke="#222" textLength="8.56" lengthAdjust="spacingAndGlyphs">10</text>
<text x="356.25" y="464.88" font-size="8.2" text-anchor="middle" fill="#222" stroke="#222" textLength="4.28" lengthAdjust="spacingAndGlyphs">0</text>
<text x="389.10" y="464.88" font-size="8.2" text-anchor="middle" fill="#222" stroke="#222" textLength="4.28" lengthAdjust="spacingAndGlyphs">0</text>
<text x="421.85" y="464.88" font-size="8.2" text-anchor="middle" fill="#222" stroke="#222" textLength="4.28" lengthAdjust="spacingAndGlyphs">0</text>
<text x="50.00" y="474.23" font-size="8.2" text-anchor="start" fill="#222" stroke="#222" textLength="17.8" lengthAdjust="spacingAndGlyphs">P442</text>
<text x="93.15" y="474.23" font-size="8.2" text-anchor="middle" fill="#ec9a28" stroke="#ec9a28" textLength="8.4" lengthAdjust="spacingAndGlyphs">ET</text>
<text x="144.95" y="474.23" font-size="8.2" text-anchor="middle" fill="#222" stroke="#222" textLength="43.2" lengthAdjust="spacingAndGlyphs">JAK2-V617F</text>
<text x="192.90" y="474.23" font-size="8.2" text-anchor="middle" fill="#222" stroke="#222" textLength="8.56" lengthAdjust="spacingAndGlyphs">10</text>
<text x="225.45" y="474.23" font-size="8.2" text-anchor="middle" fill="#222" stroke="#222" textLength="8.56" lengthAdjust="spacingAndGlyphs">10</text>
<text x="258.00" y="474.23" font-size="8.2" text-anchor="middle" fill="#222" stroke="#222" textLength="8.56" lengthAdjust="spacingAndGlyphs">18</text>
<text x="290.70" y="474.23" font-size="8.2" text-anchor="middle" fill="#222" stroke="#222" textLength="8.56" lengthAdjust="spacingAndGlyphs">30</text>
<text x="323.40" y="474.23" font-size="8.2" text-anchor="middle" fill="#222" stroke="#222" textLength="8.56" lengthAdjust="spacingAndGlyphs">13</text>
<text x="356.25" y="474.23" font-size="8.2" text-anchor="middle" fill="#222" stroke="#222" textLength="4.28" lengthAdjust="spacingAndGlyphs">0</text>
<text x="389.10" y="474.23" font-size="8.2" text-anchor="middle" fill="#222" stroke="#222" textLength="4.28" lengthAdjust="spacingAndGlyphs">0</text>
<text x="421.85" y="474.23" font-size="8.2" text-anchor="middle" fill="#222" stroke="#222" textLength="4.28" lengthAdjust="spacingAndGlyphs">0</text>
<text x="50.00" y="483.59" font-size="8.2" text-anchor="start" fill="#222" stroke="#222" textLength="17.8" lengthAdjust="spacingAndGlyphs">P207</text>
<text x="93.15" y="483.59" font-size="8.2" text-anchor="middle" fill="#ec9a28" stroke="#ec9a28" textLength="8.4" lengthAdjust="spacingAndGlyphs">ET</text>
<text x="144.95" y="483.59" font-size="8.2" text-anchor="middle" fill="#222" stroke="#222" textLength="43.2" lengthAdjust="spacingAndGlyphs">JAK2-V617F</text>
<text x="192.90" y="483.59" font-size="8.2" text-anchor="middle" fill="#222" stroke="#222" textLength="8.56" lengthAdjust="spacingAndGlyphs">10</text>
<text x="225.45" y="483.59" font-size="8.2" text-anchor="middle" fill="#222" stroke="#222" textLength="8.56" lengthAdjust="spacingAndGlyphs">13</text>
<text x="258.00" y="483.59" font-size="8.2" text-anchor="middle" fill="#222" stroke="#222" textLength="8.56" lengthAdjust="spacingAndGlyphs">24</text>
<text x="290.70" y="483.59" font-size="8.2" text-anchor="middle" fill="#222" stroke="#222" textLength="8.56" lengthAdjust="spacingAndGlyphs">31</text>
<text x="323.40" y="483.59" font-size="8.2" text-anchor="middle" fill="#222" stroke="#222" textLength="4.28" lengthAdjust="spacingAndGlyphs">9</text>
<text x="356.25" y="483.59" font-size="8.2" text-anchor="middle" fill="#222" stroke="#222" textLength="4.28" lengthAdjust="spacingAndGlyphs">0</text>
<text x="389.10" y="483.59" font-size="8.2" text-anchor="middle" fill="#222" stroke="#222" textLength="4.28" lengthAdjust="spacingAndGlyphs">0</text>
<text x="421.85" y="483.59" font-size="8.2" text-anchor="middle" fill="#222" stroke="#222" textLength="4.28" lengthAdjust="spacingAndGlyphs">0</text>
<text x="50.00" y="492.94" font-size="8.2" text-anchor="start" fill="#222" stroke="#222" textLength="17.8" lengthAdjust="spacingAndGlyphs">P369</text>
<text x="93.15" y="492.94" font-size="8.2" text-anchor="middle" fill="#ec9a28" stroke="#ec9a28" textLength="8.4" lengthAdjust="spacingAndGlyphs">ET</text>
<text x="144.95" y="492.94" font-size="8.2" text-anchor="middle" fill="#222" stroke="#222" textLength="43.2" lengthAdjust="spacingAndGlyphs">JAK2-V617F</text>
<text x="192.90" y="492.94" font-size="8.2" text-anchor="middle" fill="#222" stroke="#222" textLength="8.56" lengthAdjust="spacingAndGlyphs">10</text>
<text x="225.45" y="492.94" font-size="8.2" text-anchor="middle" fill="#222" stroke="#222" textLength="8.56" lengthAdjust="spacingAndGlyphs">12</text>
<text x="258.00" y="492.94" font-size="8.2" text-anchor="middle" fill="#f0f0f0" stroke="#f0f0f0" textLength="8.56" lengthAdjust="spacingAndGlyphs">41</text>
<text x="290.70" y="492.94" font-size="8.2" text-anchor="middle" fill="#f0f0f0" stroke="#f0f0f0" textLength="8.56" lengthAdjust="spacingAndGlyphs">55</text>
<text x="323.40" y="492.94" font-size="8.2" text-anchor="middle" fill="#222" stroke="#222" textLength="8.56" lengthAdjust="spacingAndGlyphs">15</text>
<text x="356.25" y="492.94" font-size="8.2" text-anchor="middle" fill="#222" stroke="#222" textLength="4.28" lengthAdjust="spacingAndGlyphs">3</text>
<text x="389.10" y="492.94" font-size="8.2" text-anchor="middle" fill="#222" stroke="#222" textLength="4.28" lengthAdjust="spacingAndGlyphs">8</text>
<text x="421.85" y="492.94" font-size="8.2" text-anchor="middle" fill="#222" stroke="#222" textLength="4.28" lengthAdjust="spacingAndGlyphs">0</text>
<text x="50.00" y="502.29" font-size="8.2" text-anchor="start" fill="#222" stroke="#222" textLength="17.8" lengthAdjust="spacingAndGlyphs">P425</text>
<text x="93.15" y="502.29" font-size="8.2" text-anchor="middle" fill="#c47a2a" stroke="#c47a2a" textLength="16.2" lengthAdjust="spacingAndGlyphs">PMF</text>
<text x="144.95" y="502.29" font-size="8.2" text-anchor="middle" fill="#222" stroke="#222" textLength="43.2" lengthAdjust="spacingAndGlyphs">JAK2-V617F</text>
<text x="192.90" y="502.29" font-size="8.2" text-anchor="middle" fill="#222" stroke="#222" textLength="8.56" lengthAdjust="spacingAndGlyphs">10</text>
<text x="225.45" y="502.29" font-size="8.2" text-anchor="middle" fill="#222" stroke="#222" textLength="4.28" lengthAdjust="spacingAndGlyphs">9</text>
<text x="258.00" y="502.29" font-size="8.2" text-anchor="middle" fill="#222" stroke="#222" textLength="8.56" lengthAdjust="spacingAndGlyphs">18</text>
<text x="290.70" y="502.29" font-size="8.2" text-anchor="middle" fill="#222" stroke="#222" textLength="8.56" lengthAdjust="spacingAndGlyphs">20</text>
<text x="323.40" y="502.29" font-size="8.2" text-anchor="middle" fill="#222" stroke="#222" textLength="8.56" lengthAdjust="spacingAndGlyphs">27</text>
<text x="356.25" y="502.29" font-size="8.2" text-anchor="middle" fill="#222" stroke="#222" textLength="4.28" lengthAdjust="spacingAndGlyphs">0</text>
<text x="389.10" y="502.29" font-size="8.2" text-anchor="middle" fill="#222" stroke="#222" textLength="4.28" lengthAdjust="spacingAndGlyphs">0</text>
<text x="421.85" y="502.29" font-size="8.2" text-anchor="middle" fill="#222" stroke="#222" textLength="4.28" lengthAdjust="spacingAndGlyphs">0</text>
<text x="50.00" y="511.64" font-size="8.2" text-anchor="start" fill="#222" stroke="#222" textLength="17.8" lengthAdjust="spacingAndGlyphs">P274</text>
<text x="93.15" y="511.64" font-size="8.2" text-anchor="middle" fill="#ec9a28" stroke="#ec9a28" textLength="8.4" lengthAdjust="spacingAndGlyphs">ET</text>
<text x="144.95" y="511.64" font-size="8.2" text-anchor="middle" fill="#222" stroke="#222" textLength="43.2" lengthAdjust="spacingAndGlyphs">JAK2-V617F</text>
<text x="192.90" y="511.64" font-size="8.2" text-anchor="middle" fill="#222" stroke="#222" textLength="8.56" lengthAdjust="spacingAndGlyphs">12</text>
<text x="225.45" y="511.64" font-size="8.2" text-anchor="middle" fill="#222" stroke="#222" textLength="8.56" lengthAdjust="spacingAndGlyphs">16</text>
<text x="258.00" y="511.64" font-size="8.2" text-anchor="middle" fill="#222" stroke="#222" textLength="8.56" lengthAdjust="spacingAndGlyphs">27</text>
<text x="290.70" y="511.64" font-size="8.2" text-anchor="middle" fill="#222" stroke="#222" textLength="8.56" lengthAdjust="spacingAndGlyphs">18</text>
<text x="323.40" y="511.64" font-size="8.2" text-anchor="middle" fill="#222" stroke="#222" textLength="8.56" lengthAdjust="spacingAndGlyphs">19</text>
<text x="356.25" y="511.64" font-size="8.2" text-anchor="middle" fill="#222" stroke="#222" textLength="4.28" lengthAdjust="spacingAndGlyphs">0</text>
<text x="389.10" y="511.64" font-size="8.2" text-anchor="middle" fill="#222" stroke="#222" textLength="4.28" lengthAdjust="spacingAndGlyphs">0</text>
<text x="421.85" y="511.64" font-size="8.2" text-anchor="middle" fill="#222" stroke="#222" textLength="4.28" lengthAdjust="spacingAndGlyphs">0</text>
<text x="50.00" y="521.00" font-size="8.2" text-anchor="start" fill="#222" stroke="#222" textLength="17.8" lengthAdjust="spacingAndGlyphs">P356</text>
<text x="93.15" y="521.00" font-size="8.2" text-anchor="middle" fill="#ec9a28" stroke="#ec9a28" textLength="8.4" lengthAdjust="spacingAndGlyphs">ET</text>
<text x="144.95" y="521.00" font-size="8.2" text-anchor="middle" fill="#222" stroke="#222" textLength="43.2" lengthAdjust="spacingAndGlyphs">JAK2-V617F</text>
<text x="192.90" y="521.00" font-size="8.2" text-anchor="middle" fill="#222" stroke="#222" textLength="8.56" lengthAdjust="spacingAndGlyphs">14</text>
<text x="225.45" y="521.00" font-size="8.2" text-anchor="middle" fill="#222" stroke="#222" textLength="8.56" lengthAdjust="spacingAndGlyphs">20</text>
<text x="258.00" y="521.00" font-size="8.2" text-anchor="middle" fill="#222" stroke="#222" textLength="8.56" lengthAdjust="spacingAndGlyphs">33</text>
<text x="290.70" y="521.00" font-size="8.2" text-anchor="middle" fill="#222" stroke="#222" textLength="8.56" lengthAdjust="spacingAndGlyphs">27</text>
<text x="323.40" y="521.00" font-size="8.2" text-anchor="middle" fill="#222" stroke="#222" textLength="8.56" lengthAdjust="spacingAndGlyphs">15</text>
<text x="356.25" y="521.00" font-size="8.2" text-anchor="middle" fill="#222" stroke="#222" textLength="4.28" lengthAdjust="spacingAndGlyphs">0</text>
<text x="389.10" y="521.00" font-size="8.2" text-anchor="middle" fill="#222" stroke="#222" textLength="8.56" lengthAdjust="spacingAndGlyphs">10</text>
<text x="421.85" y="521.00" font-size="8.2" text-anchor="middle" fill="#222" stroke="#222" textLength="4.28" lengthAdjust="spacingAndGlyphs">0</text>
<text x="50.00" y="530.35" font-size="8.2" text-anchor="start" fill="#222" stroke="#222" textLength="17.8" lengthAdjust="spacingAndGlyphs">P192</text>
<text x="93.15" y="530.35" font-size="8.2" text-anchor="middle" fill="#b8103a" stroke="#b8103a" textLength="9.1" lengthAdjust="spacingAndGlyphs">PV</text>
<text x="144.95" y="530.35" font-size="8.2" text-anchor="middle" fill="#222" stroke="#222" textLength="43.2" lengthAdjust="spacingAndGlyphs">JAK2-V617F</text>
<text x="192.90" y="530.35" font-size="8.2" text-anchor="middle" fill="#222" stroke="#222" textLength="8.56" lengthAdjust="spacingAndGlyphs">15</text>
<text x="225.45" y="530.35" font-size="8.2" text-anchor="middle" fill="#222" stroke="#222" textLength="7.99" lengthAdjust="spacingAndGlyphs">11</text>
<text x="258.00" y="530.35" font-size="8.2" text-anchor="middle" fill="#222" stroke="#222" textLength="4.28" lengthAdjust="spacingAndGlyphs">9</text>
<text x="290.70" y="530.35" font-size="8.2" text-anchor="middle" fill="#222" stroke="#222" textLength="8.56" lengthAdjust="spacingAndGlyphs">34</text>
<text x="323.40" y="530.35" font-size="8.2" text-anchor="middle" fill="#222" stroke="#222" textLength="7.99" lengthAdjust="spacingAndGlyphs">11</text>
<text x="356.25" y="530.35" font-size="8.2" text-anchor="middle" fill="#222" stroke="#222" textLength="4.28" lengthAdjust="spacingAndGlyphs">4</text>
<text x="389.10" y="530.35" font-size="8.2" text-anchor="middle" fill="#222" stroke="#222" textLength="4.28" lengthAdjust="spacingAndGlyphs">0</text>
<text x="421.85" y="530.35" font-size="8.2" text-anchor="middle" fill="#222" stroke="#222" textLength="4.28" lengthAdjust="spacingAndGlyphs">0</text>
<text x="50.00" y="539.70" font-size="8.2" text-anchor="start" fill="#222" stroke="#222" textLength="17.8" lengthAdjust="spacingAndGlyphs">P443</text>
<text x="93.15" y="539.70" font-size="8.2" text-anchor="middle" fill="#b8103a" stroke="#b8103a" textLength="9.1" lengthAdjust="spacingAndGlyphs">PV</text>
<text x="144.95" y="539.70" font-size="8.2" text-anchor="middle" fill="#222" stroke="#222" textLength="43.2" lengthAdjust="spacingAndGlyphs">JAK2-V617F</text>
<text x="192.90" y="539.70" font-size="8.2" text-anchor="middle" fill="#222" stroke="#222" textLength="8.56" lengthAdjust="spacingAndGlyphs">20</text>
<text x="225.45" y="539.70" font-size="8.2" text-anchor="middle" fill="#222" stroke="#222" textLength="8.56" lengthAdjust="spacingAndGlyphs">20</text>
<text x="258.00" y="539.70" font-size="8.2" text-anchor="middle" fill="#f0f0f0" stroke="#f0f0f0" textLength="8.56" lengthAdjust="spacingAndGlyphs">45</text>
<text x="290.70" y="539.70" font-size="8.2" text-anchor="middle" fill="#222" stroke="#222" textLength="8.56" lengthAdjust="spacingAndGlyphs">31</text>
<text x="323.40" y="539.70" font-size="8.2" text-anchor="middle" fill="#222" stroke="#222" textLength="8.56" lengthAdjust="spacingAndGlyphs">20</text>
<text x="356.25" y="539.70" font-size="8.2" text-anchor="middle" fill="#222" stroke="#222" textLength="4.28" lengthAdjust="spacingAndGlyphs">0</text>
<text x="389.10" y="539.70" font-size="8.2" text-anchor="middle" fill="#222" stroke="#222" textLength="4.28" lengthAdjust="spacingAndGlyphs">0</text>
<text x="421.85" y="539.70" font-size="8.2" text-anchor="middle" fill="#222" stroke="#222" textLength="4.28" lengthAdjust="spacingAndGlyphs">0</text>
<line x1="47.20" y1="316.60" x2="47.20" y2="541.50" stroke="#1a1a1a" stroke-width="1.3"/>
<line x1="72.90" y1="316.60" x2="72.90" y2="541.50" stroke="#1a1a1a" stroke-width="1.0"/>
<line x1="113.40" y1="316.60" x2="113.40" y2="541.50" stroke="#1a1a1a" stroke-width="1.0"/>
<line x1="176.50" y1="316.60" x2="176.50" y2="541.50" stroke="#1a1a1a" stroke-width="1.0"/>
<line x1="209.30" y1="316.60" x2="209.30" y2="541.50" stroke="#1a1a1a" stroke-width="1.0"/>
<line x1="241.60" y1="316.60" x2="241.60" y2="541.50" stroke="#1a1a1a" stroke-width="1.0"/>
<line x1="274.40" y1="316.60" x2="274.40" y2="541.50" stroke="#1a1a1a" stroke-width="1.0"/>
<line x1="307.00" y1="316.60" x2="307.00" y2="541.50" stroke="#1a1a1a" stroke-width="1.0"/>
<line x1="339.80" y1="316.60" x2="339.80" y2="541.50" stroke="#1a1a1a" stroke-width="1.0"/>
<line x1="372.70" y1="316.60" x2="372.70" y2="541.50" stroke="#1a1a1a" stroke-width="1.0"/>
<line x1="405.50" y1="316.60" x2="405.50" y2="541.50" stroke="#1a1a1a" stroke-width="1.0"/>
<line x1="438.20" y1="316.60" x2="438.20" y2="541.50" stroke="#1a1a1a" stroke-width="1.3"/>
<line x1="47.20" y1="316.60" x2="438.20" y2="316.60" stroke="#1a1a1a" stroke-width="1.3"/>
<line x1="47.20" y1="326.40" x2="438.20" y2="326.40" stroke="#1a1a1a" stroke-width="1.0"/>
<line x1="47.20" y1="335.75" x2="438.20" y2="335.75" stroke="#1a1a1a" stroke-width="1.0"/>
<line x1="47.20" y1="345.10" x2="438.20" y2="345.10" stroke="#1a1a1a" stroke-width="1.0"/>
<line x1="47.20" y1="354.46" x2="438.20" y2="354.46" stroke="#1a1a1a" stroke-width="1.0"/>
<line x1="47.20" y1="363.81" x2="438.20" y2="363.81" stroke="#1a1a1a" stroke-width="1.0"/>
<line x1="47.20" y1="373.16" x2="438.20" y2="373.16" stroke="#1a1a1a" stroke-width="1.0"/>
<line x1="47.20" y1="382.51" x2="438.20" y2="382.51" stroke="#1a1a1a" stroke-width="1.0"/>
<line x1="47.20" y1="391.87" x2="438.20" y2="391.87" stroke="#1a1a1a" stroke-width="1.0"/>
<line x1="47.20" y1="401.22" x2="438.20" y2="401.22" stroke="#1a1a1a" stroke-width="1.0"/>
<line x1="47.20" y1="410.57" x2="438.20" y2="410.57" stroke="#1a1a1a" stroke-width="1.0"/>
<line x1="47.20" y1="419.92" x2="438.20" y2="419.92" stroke="#1a1a1a" stroke-width="1.0"/>
<line x1="47.20" y1="429.27" x2="438.20" y2="429.27" stroke="#1a1a1a" stroke-width="1.0"/>
<line x1="47.20" y1="438.63" x2="438.20" y2="438.63" stroke="#1a1a1a" stroke-width="1.0"/>
<line x1="47.20" y1="447.98" x2="438.20" y2="447.98" stroke="#1a1a1a" stroke-width="1.0"/>
<line x1="47.20" y1="457.33" x2="438.20" y2="457.33" stroke="#1a1a1a" stroke-width="1.0"/>
<line x1="47.20" y1="466.68" x2="438.20" y2="466.68" stroke="#1a1a1a" stroke-width="1.0"/>
<line x1="47.20" y1="476.03" x2="438.20" y2="476.03" stroke="#1a1a1a" stroke-width="1.0"/>
<line x1="47.20" y1="485.39" x2="438.20" y2="485.39" stroke="#1a1a1a" stroke-width="1.0"/>
<line x1="47.20" y1="494.74" x2="438.20" y2="494.74" stroke="#1a1a1a" stroke-width="1.0"/>
<line x1="47.20" y1="504.09" x2="438.20" y2="504.09" stroke="#1a1a1a" stroke-width="1.0"/>
<line x1="47.20" y1="513.44" x2="438.20" y2="513.44" stroke="#1a1a1a" stroke-width="1.0"/>
<line x1="47.20" y1="522.80" x2="438.20" y2="522.80" stroke="#1a1a1a" stroke-width="1.0"/>
<line x1="47.20" y1="532.15" x2="438.20" y2="532.15" stroke="#1a1a1a" stroke-width="1.0"/>
<line x1="47.20" y1="541.50" x2="438.20" y2="541.50" stroke="#1a1a1a" stroke-width="1.3"/>
<text x="448.20" y="401.10" font-size="7.4" text-anchor="start" fill="#222" stroke="#222" textLength="36.3" lengthAdjust="spacingAndGlyphs">JAK2 VAF</text>
<rect x="448.6" y="406.60" width="31.0" height="9.3" fill="#ffffff" stroke="#1a1a1a" stroke-width="1.0"/>
<text x="482.90" y="413.90" font-size="7.8" text-anchor="start" fill="#222" stroke="#222">0%</text>
<rect x="448.6" y="419.25" width="31.0" height="9.3" fill="#e9ebdf" stroke="#1a1a1a" stroke-width="1.0"/>
<text x="482.90" y="426.55" font-size="7.8" text-anchor="start" fill="#222" stroke="#222">1-20%</text>
<rect x="448.6" y="431.90" width="31.0" height="9.3" fill="#c0c0c0" stroke="#1a1a1a" stroke-width="1.0"/>
<text x="482.90" y="439.20" font-size="7.8" text-anchor="start" fill="#222" stroke="#222">21-40%</text>
<rect x="448.6" y="444.55" width="31.0" height="9.3" fill="#828282" stroke="#1a1a1a" stroke-width="1.0"/>
<text x="482.90" y="451.85" font-size="7.8" text-anchor="start" fill="#222" stroke="#222">41-60%</text>
<text x="8.20" y="568.70" font-size="12.4" text-anchor="start" font-weight="bold" fill="#000" stroke="#000" textLength="8.5" lengthAdjust="spacingAndGlyphs">D</text>
<text x="38.8" y="567.6" font-size="10.6" textLength="264" lengthAdjust="spacingAndGlyphs">Patterns of lineage contribution of the <tspan font-style="italic">JAK2</tspan> mutant cells</text>
<rect x="39.10" y="667.90" width="80.80" height="27.30" fill="#e9ebe0"/>
<line x1="38.60" y1="610.30" x2="38.60" y2="695.80" stroke="#231f20" stroke-width="1.4"/>
<line x1="38.00" y1="695.20" x2="119.90" y2="695.20" stroke="#231f20" stroke-width="1.4"/>
<line x1="34.60" y1="695.20" x2="38.60" y2="695.20" stroke="#231f20" stroke-width="1.0"/>
<text x="31.70" y="698.10" font-size="8.9" text-anchor="end" textLength="4.25" lengthAdjust="spacingAndGlyphs">0</text>
<line x1="34.60" y1="667.90" x2="38.60" y2="667.90" stroke="#231f20" stroke-width="1.0"/>
<text x="31.70" y="670.80" font-size="8.9" text-anchor="end" textLength="8.5" lengthAdjust="spacingAndGlyphs">20</text>
<line x1="34.60" y1="640.60" x2="38.60" y2="640.60" stroke="#231f20" stroke-width="1.0"/>
<text x="31.70" y="643.50" font-size="8.9" text-anchor="end" textLength="8.5" lengthAdjust="spacingAndGlyphs">40</text>
<line x1="34.60" y1="613.30" x2="38.60" y2="613.30" stroke="#231f20" stroke-width="1.0"/>
<text x="31.70" y="616.20" font-size="8.9" text-anchor="end" textLength="8.5" lengthAdjust="spacingAndGlyphs">60</text>
<line x1="36.40" y1="681.55" x2="38.60" y2="681.55" stroke="#231f20" stroke-width="1.0"/>
<line x1="36.40" y1="654.25" x2="38.60" y2="654.25" stroke="#231f20" stroke-width="1.0"/>
<line x1="36.40" y1="626.95" x2="38.60" y2="626.95" stroke="#231f20" stroke-width="1.0"/>
<line x1="51.70" y1="695.20" x2="51.70" y2="697.90" stroke="#231f20" stroke-width="1.0"/>
<text x="51.70" y="709.60" font-size="8.6" text-anchor="middle">GRA</text>
<line x1="79.20" y1="695.20" x2="79.20" y2="697.90" stroke="#231f20" stroke-width="1.0"/>
<text x="79.20" y="709.60" font-size="8.6" text-anchor="middle">PLT</text>
<line x1="106.70" y1="695.20" x2="106.70" y2="697.90" stroke="#231f20" stroke-width="1.0"/>
<text x="106.70" y="709.60" font-size="8.6" text-anchor="middle">RET</text>
<text x="79.60" y="580.50" font-size="8.3" text-anchor="middle" textLength="64.2" lengthAdjust="spacingAndGlyphs">"Platelet-biased"</text>
<text x="79.60" y="590.58" font-size="8.3" text-anchor="middle">ET, N=2</text>
<path d="M51.70,688.38 L79.20,654.25 L106.70,691.11" fill="none" stroke="#a5052f" stroke-width="1.0" stroke-dasharray="2.4 1.5"/>
<path d="M51.70,685.64 L79.20,661.08 L106.70,685.64" fill="none" stroke="#a5052f" stroke-width="1.0" stroke-dasharray="2.4 1.5"/>
<circle cx="51.70" cy="688.38" r="2.6" fill="#a5052f"/>
<circle cx="79.20" cy="654.25" r="2.6" fill="#a5052f"/>
<circle cx="106.70" cy="691.11" r="2.6" fill="#a5052f"/>
<circle cx="51.70" cy="685.64" r="2.6" fill="#a5052f"/>
<circle cx="79.20" cy="661.08" r="2.6" fill="#a5052f"/>
<circle cx="106.70" cy="685.64" r="2.6" fill="#a5052f"/>
<text transform="translate(15.90,652.9) rotate(-90)" font-size="9.2" text-anchor="middle" textLength="49.6" lengthAdjust="spacingAndGlyphs"><tspan font-style="italic">JAK2</tspan> VAF&#160; (%)</text>
<rect x="153.50" y="668.03" width="81.00" height="27.37" fill="#e9ebe0"/>
<line x1="153.00" y1="610.30" x2="153.00" y2="696.00" stroke="#231f20" stroke-width="1.4"/>
<line x1="152.40" y1="695.40" x2="234.50" y2="695.40" stroke="#231f20" stroke-width="1.4"/>
<line x1="149.00" y1="695.40" x2="153.00" y2="695.40" stroke="#231f20" stroke-width="1.0"/>
<text x="146.10" y="698.30" font-size="8.9" text-anchor="end" textLength="4.25" lengthAdjust="spacingAndGlyphs">0</text>
<line x1="149.00" y1="668.03" x2="153.00" y2="668.03" stroke="#231f20" stroke-width="1.0"/>
<text x="146.10" y="670.93" font-size="8.9" text-anchor="end" textLength="8.5" lengthAdjust="spacingAndGlyphs">20</text>
<line x1="149.00" y1="640.67" x2="153.00" y2="640.67" stroke="#231f20" stroke-width="1.0"/>
<text x="146.10" y="643.57" font-size="8.9" text-anchor="end" textLength="8.5" lengthAdjust="spacingAndGlyphs">40</text>
<line x1="149.00" y1="613.30" x2="153.00" y2="613.30" stroke="#231f20" stroke-width="1.0"/>
<text x="146.10" y="616.20" font-size="8.9" text-anchor="end" textLength="8.5" lengthAdjust="spacingAndGlyphs">60</text>
<line x1="150.80" y1="681.72" x2="153.00" y2="681.72" stroke="#231f20" stroke-width="1.0"/>
<line x1="150.80" y1="654.35" x2="153.00" y2="654.35" stroke="#231f20" stroke-width="1.0"/>
<line x1="150.80" y1="626.98" x2="153.00" y2="626.98" stroke="#231f20" stroke-width="1.0"/>
<line x1="166.75" y1="695.40" x2="166.75" y2="698.10" stroke="#231f20" stroke-width="1.0"/>
<text x="166.75" y="709.60" font-size="8.6" text-anchor="middle">GRA</text>
<line x1="194.25" y1="695.40" x2="194.25" y2="698.10" stroke="#231f20" stroke-width="1.0"/>
<text x="194.25" y="709.60" font-size="8.6" text-anchor="middle">PLT</text>
<line x1="221.75" y1="695.40" x2="221.75" y2="698.10" stroke="#231f20" stroke-width="1.0"/>
<text x="221.75" y="709.60" font-size="8.6" text-anchor="middle">RET</text>
<text x="193.80" y="580.50" font-size="8.3" text-anchor="middle" textLength="67.5" lengthAdjust="spacingAndGlyphs">"Red cell-biased"</text>
<text x="193.80" y="590.58" font-size="8.3" text-anchor="middle">PV, N=3</text>
<path d="M166.75,691.29 L194.25,685.82 L221.75,661.19" fill="none" stroke="#a5052f" stroke-width="1.0" stroke-dasharray="2.4 1.5"/>
<path d="M166.75,680.35 L194.25,683.08 L221.75,648.88" fill="none" stroke="#a5052f" stroke-width="1.0" stroke-dasharray="2.4 1.5"/>
<path d="M166.75,695.40 L194.25,692.66 L221.75,669.40" fill="none" stroke="#2c4a8a" stroke-width="1.0" stroke-dasharray="2.4 1.5"/>
<circle cx="166.75" cy="691.29" r="2.6" fill="#a5052f"/>
<circle cx="194.25" cy="685.82" r="2.6" fill="#a5052f"/>
<circle cx="221.75" cy="661.19" r="2.6" fill="#a5052f"/>
<circle cx="166.75" cy="680.35" r="2.6" fill="#a5052f"/>
<circle cx="194.25" cy="683.08" r="2.6" fill="#a5052f"/>
<circle cx="221.75" cy="648.88" r="2.6" fill="#a5052f"/>
<circle cx="166.75" cy="695.40" r="2.6" fill="#2c4a8a"/>
<circle cx="194.25" cy="692.66" r="2.6" fill="#2c4a8a"/>
<circle cx="221.75" cy="669.40" r="2.6" fill="#2c4a8a"/>
<circle cx="167.6" cy="615.0" r="2.5" fill="#2c4a8a"/>
<text x="173.4" y="617.6" font-size="8.4" fill="#34508f" stroke="#34508f" textLength="53.1" lengthAdjust="spacingAndGlyphs"><tspan font-style="italic">JAK2</tspan> exon 12</text>
<text x="173.4" y="627.6" font-size="8.4" fill="#34508f" stroke="#34508f" textLength="34.3" lengthAdjust="spacingAndGlyphs">mutation</text>
<rect x="268.50" y="667.97" width="81.50" height="27.33" fill="#e9ebe0"/>
<line x1="268.00" y1="610.30" x2="268.00" y2="695.90" stroke="#231f20" stroke-width="1.4"/>
<line x1="267.40" y1="695.30" x2="350.00" y2="695.30" stroke="#231f20" stroke-width="1.4"/>
<line x1="264.00" y1="695.30" x2="268.00" y2="695.30" stroke="#231f20" stroke-width="1.0"/>
<text x="261.10" y="698.20" font-size="8.9" text-anchor="end" textLength="4.25" lengthAdjust="spacingAndGlyphs">0</text>
<line x1="264.00" y1="667.97" x2="268.00" y2="667.97" stroke="#231f20" stroke-width="1.0"/>
<text x="261.10" y="670.87" font-size="8.9" text-anchor="end" textLength="8.5" lengthAdjust="spacingAndGlyphs">20</text>
<line x1="264.00" y1="640.63" x2="268.00" y2="640.63" stroke="#231f20" stroke-width="1.0"/>
<text x="261.10" y="643.53" font-size="8.9" text-anchor="end" textLength="8.5" lengthAdjust="spacingAndGlyphs">40</text>
<line x1="264.00" y1="613.30" x2="268.00" y2="613.30" stroke="#231f20" stroke-width="1.0"/>
<text x="261.10" y="616.20" font-size="8.9" text-anchor="end" textLength="8.5" lengthAdjust="spacingAndGlyphs">60</text>
<line x1="265.80" y1="681.63" x2="268.00" y2="681.63" stroke="#231f20" stroke-width="1.0"/>
<line x1="265.80" y1="654.30" x2="268.00" y2="654.30" stroke="#231f20" stroke-width="1.0"/>
<line x1="265.80" y1="626.97" x2="268.00" y2="626.97" stroke="#231f20" stroke-width="1.0"/>
<line x1="281.75" y1="695.30" x2="281.75" y2="698.00" stroke="#231f20" stroke-width="1.0"/>
<text x="281.75" y="709.60" font-size="8.6" text-anchor="middle">GRA</text>
<line x1="309.00" y1="695.30" x2="309.00" y2="698.00" stroke="#231f20" stroke-width="1.0"/>
<text x="309.00" y="709.60" font-size="8.6" text-anchor="middle">PLT</text>
<line x1="336.25" y1="695.30" x2="336.25" y2="698.00" stroke="#231f20" stroke-width="1.0"/>
<text x="336.25" y="709.60" font-size="8.6" text-anchor="middle">RET</text>
<text x="309.40" y="580.50" font-size="8.3" text-anchor="middle" textLength="113.7" lengthAdjust="spacingAndGlyphs">"Platelet and red cell-biased"</text>
<text x="309.40" y="590.58" font-size="8.3" text-anchor="middle">PV, N=5</text>
<text x="309.40" y="600.66" font-size="8.3" text-anchor="middle">ET, N=7</text>
<text x="309.40" y="610.74" font-size="8.3" text-anchor="middle">PMF, N=2</text>
<path d="M281.75,695.30 L309.00,648.83 L336.25,647.47" fill="none" stroke="#a5052f" stroke-width="1.0" stroke-dasharray="2.4 1.5"/>
<path d="M281.75,689.83 L309.00,667.97 L336.25,640.63" fill="none" stroke="#a5052f" stroke-width="1.0" stroke-dasharray="2.4 1.5"/>
<path d="M281.75,687.10 L309.00,646.10 L336.25,661.13" fill="none" stroke="#a5052f" stroke-width="1.0" stroke-dasharray="2.4 1.5"/>
<path d="M281.75,681.63 L309.00,658.40 L336.25,672.07" fill="none" stroke="#a5052f" stroke-width="1.0" stroke-dasharray="2.4 1.5"/>
<path d="M281.75,683.00 L309.00,642.00 L336.25,648.83" fill="none" stroke="#a5052f" stroke-width="1.0" stroke-dasharray="2.4 1.5"/>
<path d="M281.75,680.27 L309.00,661.13 L336.25,658.40" fill="none" stroke="#a5052f" stroke-width="1.0" stroke-dasharray="2.4 1.5"/>
<path d="M281.75,677.53 L309.00,661.13 L336.25,648.83" fill="none" stroke="#a5052f" stroke-width="1.0" stroke-dasharray="2.4 1.5"/>
<path d="M281.75,681.63 L309.00,670.70 L336.25,654.30" fill="none" stroke="#a5052f" stroke-width="1.0" stroke-dasharray="2.4 1.5"/>
<path d="M281.75,677.53 L309.00,662.50 L336.25,652.93" fill="none" stroke="#a5052f" stroke-width="1.0" stroke-dasharray="2.4 1.5"/>
<path d="M281.75,678.90 L309.00,633.80 L336.25,620.13" fill="none" stroke="#a5052f" stroke-width="1.0" stroke-dasharray="2.4 1.5"/>
<path d="M281.75,683.00 L309.00,670.70 L336.25,667.97" fill="none" stroke="#a5052f" stroke-width="1.0" stroke-dasharray="2.4 1.5"/>
<path d="M281.75,673.43 L309.00,658.40 L336.25,670.70" fill="none" stroke="#a5052f" stroke-width="1.0" stroke-dasharray="2.4 1.5"/>
<path d="M281.75,667.97 L309.00,650.20 L336.25,658.40" fill="none" stroke="#a5052f" stroke-width="1.0" stroke-dasharray="2.4 1.5"/>
<path d="M281.75,667.97 L309.00,639.27 L336.25,652.93" fill="none" stroke="#a5052f" stroke-width="1.0" stroke-dasharray="2.4 1.5"/>
<path d="M281.75,684.37 L309.00,639.27 L336.25,657.03" fill="none" stroke="#2c4a8a" stroke-width="1.0" stroke-dasharray="2.4 1.5"/>
<circle cx="281.75" cy="695.30" r="2.6" fill="#a5052f"/>
<circle cx="309.00" cy="648.83" r="2.6" fill="#a5052f"/>
<circle cx="336.25" cy="647.47" r="2.6" fill="#a5052f"/>
<circle cx="281.75" cy="689.83" r="2.6" fill="#a5052f"/>
<circle cx="309.00" cy="667.97" r="2.6" fill="#a5052f"/>
<circle cx="336.25" cy="640.63" r="2.6" fill="#a5052f"/>
<circle cx="281.75" cy="687.10" r="2.6" fill="#a5052f"/>
<circle cx="309.00" cy="646.10" r="2.6" fill="#a5052f"/>
<circle cx="336.25" cy="661.13" r="2.6" fill="#a5052f"/>
<circle cx="281.75" cy="681.63" r="2.6" fill="#a5052f"/>
<circle cx="309.00" cy="658.40" r="2.6" fill="#a5052f"/>
<circle cx="336.25" cy="672.07" r="2.6" fill="#a5052f"/>
<circle cx="281.75" cy="683.00" r="2.6" fill="#a5052f"/>
<circle cx="309.00" cy="642.00" r="2.6" fill="#a5052f"/>
<circle cx="336.25" cy="648.83" r="2.6" fill="#a5052f"/>
<circle cx="281.75" cy="680.27" r="2.6" fill="#a5052f"/>
<circle cx="309.00" cy="661.13" r="2.6" fill="#a5052f"/>
<circle cx="336.25" cy="658.40" r="2.6" fill="#a5052f"/>
<circle cx="281.75" cy="677.53" r="2.6" fill="#a5052f"/>
<circle cx="309.00" cy="661.13" r="2.6" fill="#a5052f"/>
<circle cx="336.25" cy="648.83" r="2.6" fill="#a5052f"/>
<circle cx="281.75" cy="681.63" r="2.6" fill="#a5052f"/>
<circle cx="309.00" cy="670.70" r="2.6" fill="#a5052f"/>
<circle cx="336.25" cy="654.30" r="2.6" fill="#a5052f"/>
<circle cx="281.75" cy="677.53" r="2.6" fill="#a5052f"/>
<circle cx="309.00" cy="662.50" r="2.6" fill="#a5052f"/>
<circle cx="336.25" cy="652.93" r="2.6" fill="#a5052f"/>
<circle cx="281.75" cy="678.90" r="2.6" fill="#a5052f"/>
<circle cx="309.00" cy="633.80" r="2.6" fill="#a5052f"/>
<circle cx="336.25" cy="620.13" r="2.6" fill="#a5052f"/>
<circle cx="281.75" cy="683.00" r="2.6" fill="#a5052f"/>
<circle cx="309.00" cy="670.70" r="2.6" fill="#a5052f"/>
<circle cx="336.25" cy="667.97" r="2.6" fill="#a5052f"/>
<circle cx="281.75" cy="673.43" r="2.6" fill="#a5052f"/>
<circle cx="309.00" cy="658.40" r="2.6" fill="#a5052f"/>
<circle cx="336.25" cy="670.70" r="2.6" fill="#a5052f"/>
<circle cx="281.75" cy="667.97" r="2.6" fill="#a5052f"/>
<circle cx="309.00" cy="650.20" r="2.6" fill="#a5052f"/>
<circle cx="336.25" cy="658.40" r="2.6" fill="#a5052f"/>
<circle cx="281.75" cy="667.97" r="2.6" fill="#a5052f"/>
<circle cx="309.00" cy="639.27" r="2.6" fill="#a5052f"/>
<circle cx="336.25" cy="652.93" r="2.6" fill="#a5052f"/>
<circle cx="281.75" cy="684.37" r="2.6" fill="#2c4a8a"/>
<circle cx="309.00" cy="639.27" r="2.6" fill="#2c4a8a"/>
<circle cx="336.25" cy="657.03" r="2.6" fill="#2c4a8a"/>
<rect x="399.25" y="667.97" width="81.50" height="27.33" fill="#e9ebe0"/>
<line x1="398.75" y1="610.30" x2="398.75" y2="695.90" stroke="#231f20" stroke-width="1.4"/>
<line x1="398.15" y1="695.30" x2="480.75" y2="695.30" stroke="#231f20" stroke-width="1.4"/>
<line x1="394.75" y1="695.30" x2="398.75" y2="695.30" stroke="#231f20" stroke-width="1.0"/>
<text x="391.85" y="698.20" font-size="8.9" text-anchor="end" textLength="4.25" lengthAdjust="spacingAndGlyphs">0</text>
<line x1="394.75" y1="667.97" x2="398.75" y2="667.97" stroke="#231f20" stroke-width="1.0"/>
<text x="391.85" y="670.87" font-size="8.9" text-anchor="end" textLength="8.5" lengthAdjust="spacingAndGlyphs">20</text>
<line x1="394.75" y1="640.63" x2="398.75" y2="640.63" stroke="#231f20" stroke-width="1.0"/>
<text x="391.85" y="643.53" font-size="8.9" text-anchor="end" textLength="8.5" lengthAdjust="spacingAndGlyphs">40</text>
<line x1="394.75" y1="613.30" x2="398.75" y2="613.30" stroke="#231f20" stroke-width="1.0"/>
<text x="391.85" y="616.20" font-size="8.9" text-anchor="end" textLength="8.5" lengthAdjust="spacingAndGlyphs">60</text>
<line x1="396.55" y1="681.63" x2="398.75" y2="681.63" stroke="#231f20" stroke-width="1.0"/>
<line x1="396.55" y1="654.30" x2="398.75" y2="654.30" stroke="#231f20" stroke-width="1.0"/>
<line x1="396.55" y1="626.97" x2="398.75" y2="626.97" stroke="#231f20" stroke-width="1.0"/>
<line x1="412.50" y1="695.30" x2="412.50" y2="698.00" stroke="#231f20" stroke-width="1.0"/>
<text x="412.50" y="709.60" font-size="8.6" text-anchor="middle">GRA</text>
<line x1="440.00" y1="695.30" x2="440.00" y2="698.00" stroke="#231f20" stroke-width="1.0"/>
<text x="440.00" y="709.60" font-size="8.6" text-anchor="middle">PLT</text>
<line x1="466.75" y1="695.30" x2="466.75" y2="698.00" stroke="#231f20" stroke-width="1.0"/>
<text x="466.75" y="709.60" font-size="8.6" text-anchor="middle">RET</text>
<text x="436.50" y="580.50" font-size="8.3" text-anchor="middle" textLength="68" lengthAdjust="spacingAndGlyphs">"Persistently low"</text>
<text x="436.50" y="590.58" font-size="8.3" text-anchor="middle">PV, N=1</text>
<text x="436.50" y="600.66" font-size="8.3" text-anchor="middle">ET, N=2</text>
<path d="M412.50,691.20 L440.00,689.83 L466.75,688.47" fill="none" stroke="#a5052f" stroke-width="1.0" stroke-dasharray="2.4 1.5"/>
<path d="M412.50,695.30 L440.00,678.90 L466.75,683.00" fill="none" stroke="#a5052f" stroke-width="1.0" stroke-dasharray="2.4 1.5"/>
<path d="M412.50,688.47 L440.00,681.63 L466.75,677.53" fill="none" stroke="#a5052f" stroke-width="1.0" stroke-dasharray="2.4 1.5"/>
<circle cx="412.50" cy="691.20" r="2.6" fill="#a5052f"/>
<circle cx="440.00" cy="689.83" r="2.6" fill="#a5052f"/>
<circle cx="466.75" cy="688.47" r="2.6" fill="#a5052f"/>
<circle cx="412.50" cy="695.30" r="2.6" fill="#a5052f"/>
<circle cx="440.00" cy="678.90" r="2.6" fill="#a5052f"/>
<circle cx="466.75" cy="683.00" r="2.6" fill="#a5052f"/>
<circle cx="412.50" cy="688.47" r="2.6" fill="#a5052f"/>
<circle cx="440.00" cy="681.63" r="2.6" fill="#a5052f"/>
<circle cx="466.75" cy="677.53" r="2.6" fill="#a5052f"/>
<rect x="0.00" y="0.00" width="520.00" height="1.20" fill="#000"/>
<rect x="0.00" y="0.00" width="1.20" height="719.00" fill="#000"/>
<rect x="518.60" y="0.00" width="1.40" height="719.00" fill="#000"/>
<rect x="0.00" y="717.50" width="520.00" height="1.50" fill="#000"/>
</g>
</svg></body></html>
